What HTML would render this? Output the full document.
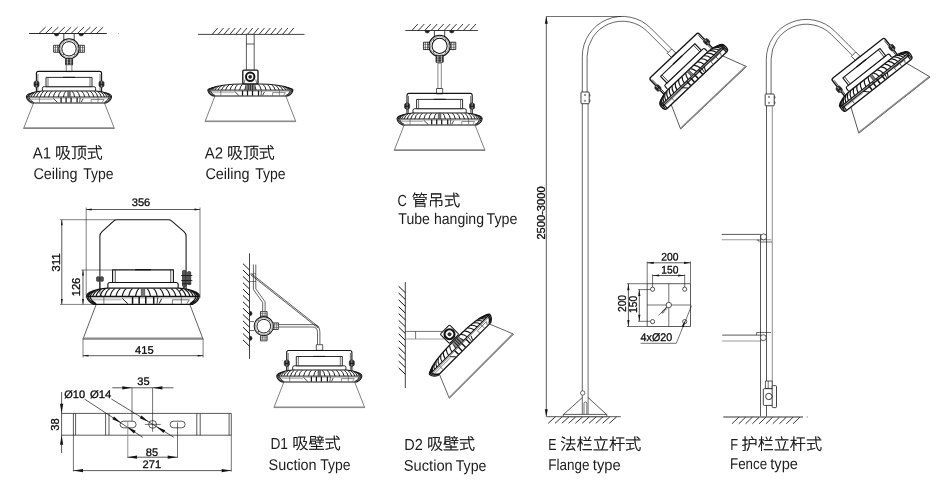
<!DOCTYPE html>
<html lang="zh">
<head>
<meta charset="utf-8">
<title>Installation types</title>
<style>
html,body{margin:0;padding:0;background:#fff;}
body{width:944px;height:496px;overflow:hidden;}
svg{display:block;will-change:transform;}
text.d{font-family:"Liberation Sans",sans-serif;fill:#0c0c0c;stroke:#0c0c0c;stroke-width:0.3px;}
text.l{font-family:"Liberation Sans","Noto Sans CJK SC",sans-serif;font-weight:300;fill:#1c1c1c;}
text.l .c{fill:#000;stroke:#000;stroke-width:0.28px;}
</style>
</head>
<body>
<svg width="944" height="496" viewBox="0 0 944 496" stroke-linecap="butt" stroke-linejoin="round">
<rect x="0" y="0" width="944" height="496" fill="#fff"/>
<g><line x1="29.1" y1="33.5" x2="106.8" y2="33.5" stroke="#141414" stroke-width="0.9"/><path d="M39,33.5 l6.6,-6.4M45.4,33.5 l6.6,-6.4M51.8,33.5 l6.6,-6.4M58.2,33.5 l6.6,-6.4M64.6,33.5 l6.6,-6.4M71,33.5 l6.6,-6.4M77.4,33.5 l6.6,-6.4M83.8,33.5 l6.6,-6.4M90.2,33.5 l6.6,-6.4M96.6,33.5 l6.6,-6.4" fill="none" stroke="#141414" stroke-width="0.85"/><circle cx="118.6" cy="33.5" r="0.5" fill="#888"/><rect x="63.8" y="33.5" width="10.4" height="6.5" rx="0" fill="#fff" stroke="#141414" stroke-width="0.8"/><g transform="translate(69,48.8)"><g transform="rotate(180)"><rect x="9.6" y="-3.5" width="5.8" height="7" rx="0" fill="#fff" stroke="#141414" stroke-width="0.8"/><line x1="11.5" y1="-3.5" x2="11.5" y2="3.5" stroke="#141414" stroke-width="0.6"/><line x1="13.6" y1="-3.5" x2="13.6" y2="3.5" stroke="#141414" stroke-width="0.6"/><line x1="9.8" y1="-1.4" x2="15.4" y2="-1.4" stroke="#444" stroke-width="0.5"/><line x1="9.8" y1="1.4" x2="15.4" y2="1.4" stroke="#444" stroke-width="0.5"/></g><g transform="rotate(0)"><rect x="9.6" y="-3.5" width="5.8" height="7" rx="0" fill="#fff" stroke="#141414" stroke-width="0.8"/><line x1="11.5" y1="-3.5" x2="11.5" y2="3.5" stroke="#141414" stroke-width="0.6"/><line x1="13.6" y1="-3.5" x2="13.6" y2="3.5" stroke="#141414" stroke-width="0.6"/><line x1="9.8" y1="-1.4" x2="15.4" y2="-1.4" stroke="#444" stroke-width="0.5"/><line x1="9.8" y1="1.4" x2="15.4" y2="1.4" stroke="#444" stroke-width="0.5"/></g><circle cx="0" cy="0" r="10.1" fill="#fff" stroke="#141414" stroke-width="1.1"/><circle cx="0" cy="0" r="8.9" fill="none" stroke="#444" stroke-width="0.5"/><circle cx="0" cy="0" r="7.2" fill="none" stroke="#141414" stroke-width="1"/><circle cx="5.73" cy="5.73" r="0.55" fill="#222"/><circle cx="-5.73" cy="5.73" r="0.55" fill="#222"/><circle cx="-5.73" cy="-5.73" r="0.55" fill="#222"/><circle cx="5.73" cy="-5.73" r="0.55" fill="#222"/></g><path d="M54.3,33.8 h4.6 a2.3,2.3 0 0 1 -4.6,0 Z" fill="#222" stroke="#141414" stroke-width="0.4"/><path d="M79,33.8 h4.6 a2.3,2.3 0 0 1 -4.6,0 Z" fill="#222" stroke="#141414" stroke-width="0.4"/><rect x="65.6" y="58.6" width="7" height="6.2" rx="0" fill="#777" stroke="#141414" stroke-width="0.8"/><path d="M65.6,60.2 H72.6 M65.6,61.8 H72.6 M65.6,63.4 H72.6" fill="none" stroke="#141414" stroke-width="0.8"/><path d="M67.4,58.6 V64.8 M70.8,58.6 V64.8" fill="none" stroke="#fff" stroke-width="0.6"/><rect x="66.3" y="64.8" width="5.6" height="6.8" rx="0" fill="#fff" stroke="#444" stroke-width="0.7"/><g transform="translate(69,102.9)"><path d="M-35.4,0 L-45.4,25.6 H45.4 L35.4,0" fill="none" stroke="#3a3a3a" stroke-width="0.65"/><line x1="-45.1" y1="25" x2="45.1" y2="25" stroke="#888" stroke-width="1.2"/><g><path d="M-32.6,-9 V-29.5 Q-32.6,-31.5 -30.6,-31.5 H30.6 Q32.6,-31.5 32.6,-29.5 V-9" fill="none" stroke="#141414" stroke-width="1.1"/><path d="M-31.1,-9 V-29 M31.1,-9 V-29" fill="none" stroke="#141414" stroke-width="0.6"/><path d="M-26.6,-11.7 V-14.7 Q-26.6,-16.2 -24.9,-16.2 H24.9 Q26.6,-16.2 26.6,-14.7 V-11.7" fill="#fff" stroke="#141414" stroke-width="0.9"/><rect x="-23" y="-25.5" width="46" height="9.3" rx="0" fill="#fff" stroke="#141414" stroke-width="0.9"/><line x1="-21" y1="-25.4" x2="-21" y2="-16.2" stroke="#141414" stroke-width="0.6"/><line x1="21" y1="-25.4" x2="21" y2="-16.2" stroke="#141414" stroke-width="0.6"/><line x1="-6" y1="-25.6" x2="6" y2="-25.6" stroke="#141414" stroke-width="1"/></g><g transform="scale(1,0.97)"><path d="M-26.8,-12.3 H26.8 C31,-12.1 36,-11.1 40.3,-9.1 C41.9,-8.3 42.6,-7.5 42.6,-6.3 C42.3,-3.8 39.8,-1.2 37.4,0 H-37.4 C-39.8,-1.2 -42.3,-3.8 -42.6,-6.3 C-42.6,-7.5 -41.9,-8.3 -40.3,-9.1 C-36,-11.1 -31,-12.1 -26.8,-12.3 Z" fill="#fff" stroke="#141414" stroke-width="1.05"/><line x1="-42.4" y1="-6.1" x2="42.4" y2="-6.1" stroke="#141414" stroke-width="0.9"/><line x1="-42" y1="-5" x2="42" y2="-5" stroke="#555" stroke-width="0.5"/><path d="M-41.4,-5.6 C-40.8,-3.4 -39,-1.6 -36.6,-0.5 M41.4,-5.6 C40.8,-3.4 39,-1.6 36.6,-0.5 M-40,-5.6 C-39.4,-3.6 -37.6,-1.6 -35.4,-0.5 M40,-5.6 C39.4,-3.6 37.6,-1.6 35.4,-0.5" fill="none" stroke="#141414" stroke-width="1"/><path d="M-3.15,-12 Q-5.03,-10.2 -5.65,-6" fill="none" stroke="#141414" stroke-width="0.95"/><path d="M-7.99,-12 Q-10.08,-10.2 -10.78,-6" fill="none" stroke="#141414" stroke-width="0.95"/><path d="M-12.68,-12 Q-14.98,-10.2 -15.74,-6" fill="none" stroke="#141414" stroke-width="0.95"/><path d="M-17.14,-12 Q-19.63,-10.2 -20.46,-6" fill="none" stroke="#141414" stroke-width="0.95"/><path d="M-21.31,-12 Q-23.98,-10.2 -24.86,-6" fill="none" stroke="#141414" stroke-width="0.95"/><path d="M-25.11,-12 Q-27.94,-10.2 -28.89,-6" fill="none" stroke="#141414" stroke-width="0.95"/><path d="M-28.5,-11.83 Q-31.48,-10.08 -32.47,-6" fill="none" stroke="#141414" stroke-width="0.95"/><path d="M-31.41,-11.46 Q-34.52,-9.82 -35.55,-6" fill="none" stroke="#141414" stroke-width="0.95"/><path d="M-33.81,-11 Q-37.02,-9.5 -38.09,-6" fill="none" stroke="#141414" stroke-width="0.95"/><path d="M-35.66,-10.64 Q-38.95,-9.25 -40.04,-6" fill="none" stroke="#141414" stroke-width="0.95"/><path d="M-36.93,-10.27 Q-40.27,-8.99 -41.38,-6" fill="none" stroke="#141414" stroke-width="0.95"/><path d="M-37.59,-9.98 Q-40.96,-8.79 -42.09,-6" fill="none" stroke="#141414" stroke-width="0.95"/><path d="M3.15,-12 Q5.03,-10.2 5.65,-6" fill="none" stroke="#141414" stroke-width="0.95"/><path d="M7.99,-12 Q10.08,-10.2 10.78,-6" fill="none" stroke="#141414" stroke-width="0.95"/><path d="M12.68,-12 Q14.98,-10.2 15.74,-6" fill="none" stroke="#141414" stroke-width="0.95"/><path d="M17.14,-12 Q19.63,-10.2 20.46,-6" fill="none" stroke="#141414" stroke-width="0.95"/><path d="M21.31,-12 Q23.98,-10.2 24.86,-6" fill="none" stroke="#141414" stroke-width="0.95"/><path d="M25.11,-12 Q27.94,-10.2 28.89,-6" fill="none" stroke="#141414" stroke-width="0.95"/><path d="M28.5,-11.83 Q31.48,-10.08 32.47,-6" fill="none" stroke="#141414" stroke-width="0.95"/><path d="M31.41,-11.46 Q34.52,-9.82 35.55,-6" fill="none" stroke="#141414" stroke-width="0.95"/><path d="M33.81,-11 Q37.02,-9.5 38.09,-6" fill="none" stroke="#141414" stroke-width="0.95"/><path d="M35.66,-10.64 Q38.95,-9.25 40.04,-6" fill="none" stroke="#141414" stroke-width="0.95"/><path d="M36.93,-10.27 Q40.27,-8.99 41.38,-6" fill="none" stroke="#141414" stroke-width="0.95"/><path d="M37.59,-9.98 Q40.96,-8.79 42.09,-6" fill="none" stroke="#141414" stroke-width="0.95"/><rect x="-1.3" y="-12.1" width="2.6" height="6" rx="0" fill="#777" stroke="#333" stroke-width="0.5"/><line x1="-7.9" y1="-5.6" x2="-7.9" y2="-0.4" stroke="#141414" stroke-width="1.25"/><line x1="-2.9" y1="-5.6" x2="-2.9" y2="-0.4" stroke="#141414" stroke-width="1.25"/><line x1="2.1" y1="-5.6" x2="2.1" y2="-0.4" stroke="#141414" stroke-width="1.25"/><line x1="8.1" y1="-5.6" x2="8.1" y2="-0.4" stroke="#141414" stroke-width="1.25"/><line x1="11.2" y1="-5.4" x2="10.6" y2="-0.4" stroke="#141414" stroke-width="0.7"/><path d="M-15.7,-4.6 L-11.5,-0.5 M14.1,-4.3 L12.2,-0.6" fill="none" stroke="#141414" stroke-width="0.8"/><path d="M-38.2,-3.5 H-16.3" fill="none" stroke="#aaa" stroke-width="0.8"/><path d="M22.2,-3.5 H35 L33.2,-0.5 M22.2,-3.5 V-0.4 M29,-5.6 V-0.4 M-29.6,-5.6 V-0.4" fill="none" stroke="#333" stroke-width="0.55"/></g><g transform="translate(0,0)"><rect x="-35" y="-21.4" width="5" height="5.2" rx="1.2" fill="#333" stroke="#141414" stroke-width="0.6"/><rect x="-33.4" y="-22.2" width="1.8" height="6.8" rx="0.4" fill="#888" stroke="#141414" stroke-width="0.5"/><line x1="-34.3" y1="-18.6" x2="-30.7" y2="-18.6" stroke="#141414" stroke-width="0.9"/><rect x="30" y="-21.4" width="5" height="5.2" rx="1.2" fill="#333" stroke="#141414" stroke-width="0.6"/><rect x="31.6" y="-22.2" width="1.8" height="6.8" rx="0.4" fill="#888" stroke="#141414" stroke-width="0.5"/><line x1="30.7" y1="-18.6" x2="34.3" y2="-18.6" stroke="#141414" stroke-width="0.9"/></g></g></g>
<g><line x1="197.9" y1="34.4" x2="304.5" y2="34.4" stroke="#141414" stroke-width="0.8"/><path d="M212.3,34.4 l5.4,-6.4M218.15,34.4 l5.4,-6.4M224,34.4 l5.4,-6.4M229.85,34.4 l5.4,-6.4M235.7,34.4 l5.4,-6.4M241.55,34.4 l5.4,-6.4M247.4,34.4 l5.4,-6.4M253.25,34.4 l5.4,-6.4M259.1,34.4 l5.4,-6.4M264.95,34.4 l5.4,-6.4M270.8,34.4 l5.4,-6.4M276.65,34.4 l5.4,-6.4M282.5,34.4 l5.4,-6.4M288.35,34.4 l5.4,-6.4" fill="none" stroke="#141414" stroke-width="0.85"/><rect x="246.4" y="34.4" width="7.8" height="36" rx="0" fill="#fff" stroke="#141414" stroke-width="0.7"/><line x1="246.4" y1="44" x2="254.2" y2="44" stroke="#141414" stroke-width="0.7"/><g transform="translate(250.4,96.0)"><path d="M-35.4,0 L-45.4,25.6 H45.4 L35.4,0" fill="none" stroke="#3a3a3a" stroke-width="0.65"/><line x1="-45.1" y1="25" x2="45.1" y2="25" stroke="#888" stroke-width="1.2"/><g></g><g transform="scale(1,0.97)"><path d="M-8.5,-12.3 H8.5 C16,-12.2 22,-11.7 27,-11.1 C31,-10.6 37,-9.2 40.8,-7.6 C42,-7.1 42.6,-6.9 42.6,-6.3 C42.3,-3.8 39.8,-1.2 37.4,0 H-37.4 C-39.8,-1.2 -42.3,-3.8 -42.6,-6.3 C-42.6,-6.9 -42,-7.1 -40.8,-7.6 C-37,-9.2 -31,-10.6 -27,-11.1 C-22,-11.7 -16,-12.2 -8.5,-12.3 Z" fill="#fff" stroke="#141414" stroke-width="1.05"/><line x1="-42.4" y1="-6.1" x2="42.4" y2="-6.1" stroke="#141414" stroke-width="0.9"/><line x1="-42" y1="-5" x2="42" y2="-5" stroke="#555" stroke-width="0.5"/><path d="M-41.4,-5.6 C-40.8,-3.4 -39,-1.6 -36.6,-0.5 M41.4,-5.6 C40.8,-3.4 39,-1.6 36.6,-0.5 M-40,-5.6 C-39.4,-3.6 -37.6,-1.6 -35.4,-0.5 M40,-5.6 C39.4,-3.6 37.6,-1.6 35.4,-0.5" fill="none" stroke="#141414" stroke-width="1"/><path d="M-3.15,-12 Q-5.03,-10.2 -5.65,-6" fill="none" stroke="#141414" stroke-width="0.95"/><path d="M-7.99,-12 Q-10.08,-10.2 -10.78,-6" fill="none" stroke="#141414" stroke-width="0.95"/><path d="M-12.68,-11.82 Q-14.98,-10.08 -15.74,-6" fill="none" stroke="#141414" stroke-width="0.95"/><path d="M-17.14,-11.64 Q-19.63,-9.95 -20.46,-6" fill="none" stroke="#141414" stroke-width="0.95"/><path d="M-21.31,-11.31 Q-23.98,-9.71 -24.86,-6" fill="none" stroke="#141414" stroke-width="0.95"/><path d="M-25.11,-10.97 Q-27.94,-9.48 -28.89,-6" fill="none" stroke="#141414" stroke-width="0.95"/><path d="M-28.5,-10.55 Q-31.48,-9.19 -32.47,-6" fill="none" stroke="#141414" stroke-width="0.95"/><path d="M-31.41,-10.06 Q-34.52,-8.85 -35.55,-6" fill="none" stroke="#141414" stroke-width="0.95"/><path d="M-33.81,-9.57 Q-37.02,-8.5 -38.09,-6" fill="none" stroke="#141414" stroke-width="0.95"/><path d="M-35.66,-9.03 Q-38.95,-8.12 -40.04,-6" fill="none" stroke="#141414" stroke-width="0.95"/><path d="M-36.93,-8.67 Q-40.27,-7.87 -41.38,-6" fill="none" stroke="#141414" stroke-width="0.95"/><path d="M-37.59,-8.47 Q-40.96,-7.73 -42.09,-6" fill="none" stroke="#141414" stroke-width="0.95"/><path d="M3.15,-12 Q5.03,-10.2 5.65,-6" fill="none" stroke="#141414" stroke-width="0.95"/><path d="M7.99,-12 Q10.08,-10.2 10.78,-6" fill="none" stroke="#141414" stroke-width="0.95"/><path d="M12.68,-11.82 Q14.98,-10.08 15.74,-6" fill="none" stroke="#141414" stroke-width="0.95"/><path d="M17.14,-11.64 Q19.63,-9.95 20.46,-6" fill="none" stroke="#141414" stroke-width="0.95"/><path d="M21.31,-11.31 Q23.98,-9.71 24.86,-6" fill="none" stroke="#141414" stroke-width="0.95"/><path d="M25.11,-10.97 Q27.94,-9.48 28.89,-6" fill="none" stroke="#141414" stroke-width="0.95"/><path d="M28.5,-10.55 Q31.48,-9.19 32.47,-6" fill="none" stroke="#141414" stroke-width="0.95"/><path d="M31.41,-10.06 Q34.52,-8.85 35.55,-6" fill="none" stroke="#141414" stroke-width="0.95"/><path d="M33.81,-9.57 Q37.02,-8.5 38.09,-6" fill="none" stroke="#141414" stroke-width="0.95"/><path d="M35.66,-9.03 Q38.95,-8.12 40.04,-6" fill="none" stroke="#141414" stroke-width="0.95"/><path d="M36.93,-8.67 Q40.27,-7.87 41.38,-6" fill="none" stroke="#141414" stroke-width="0.95"/><path d="M37.59,-8.47 Q40.96,-7.73 42.09,-6" fill="none" stroke="#141414" stroke-width="0.95"/><rect x="-4.8" y="-12.1" width="9.6" height="6" rx="0" fill="#888" stroke="#333" stroke-width="0.5"/><path d="M-2.2,-12 V-6.2 M0,-12 V-6.2 M2.2,-12 V-6.2" fill="none" stroke="#141414" stroke-width="0.8"/><line x1="-7.9" y1="-5.6" x2="-7.9" y2="-0.4" stroke="#141414" stroke-width="1.25"/><line x1="-2.9" y1="-5.6" x2="-2.9" y2="-0.4" stroke="#141414" stroke-width="1.25"/><line x1="2.1" y1="-5.6" x2="2.1" y2="-0.4" stroke="#141414" stroke-width="1.25"/><line x1="8.1" y1="-5.6" x2="8.1" y2="-0.4" stroke="#141414" stroke-width="1.25"/><line x1="11.2" y1="-5.4" x2="10.6" y2="-0.4" stroke="#141414" stroke-width="0.7"/><path d="M-15.7,-4.6 L-11.5,-0.5 M14.1,-4.3 L12.2,-0.6" fill="none" stroke="#141414" stroke-width="0.8"/><path d="M-38.2,-3.5 H-16.3" fill="none" stroke="#aaa" stroke-width="0.8"/><path d="M22.2,-3.5 H35 L33.2,-0.5 M22.2,-3.5 V-0.4 M29,-5.6 V-0.4 M-29.6,-5.6 V-0.4" fill="none" stroke="#333" stroke-width="0.55"/></g><rect x="-7.6" y="-25.9" width="15.2" height="13.8" rx="1.2" fill="#fff" stroke="#141414" stroke-width="1.3"/><path d="M-6.4,-12.1 L-5.4,-16.5 M6.4,-12.1 L5.4,-16.5" fill="none" stroke="#141414" stroke-width="0.6"/><circle cx="-0.2" cy="-19.2" r="4.2" fill="none" stroke="#141414" stroke-width="2"/><circle cx="-0.2" cy="-19.2" r="1.6" fill="#222" stroke="#141414" stroke-width="0.5"/></g></g>
<g><line x1="405.3" y1="30.5" x2="477.9" y2="30.5" stroke="#141414" stroke-width="0.8"/><path d="M411.8,30.5 l6.1,-6.5M418.25,30.5 l6.1,-6.5M424.7,30.5 l6.1,-6.5M431.15,30.5 l6.1,-6.5M437.6,30.5 l6.1,-6.5M444.05,30.5 l6.1,-6.5M450.5,30.5 l6.1,-6.5M456.95,30.5 l6.1,-6.5M463.4,30.5 l6.1,-6.5M469.85,30.5 l6.1,-6.5" fill="none" stroke="#141414" stroke-width="0.85"/><rect x="434.4" y="30.5" width="10.3" height="6.5" rx="0" fill="#fff" stroke="#141414" stroke-width="0.8"/><g transform="translate(439.6,45.9) scale(1.05)"><g transform="rotate(180)"><rect x="9.6" y="-3.5" width="5.8" height="7" rx="0" fill="#fff" stroke="#141414" stroke-width="0.8"/><line x1="11.5" y1="-3.5" x2="11.5" y2="3.5" stroke="#141414" stroke-width="0.6"/><line x1="13.6" y1="-3.5" x2="13.6" y2="3.5" stroke="#141414" stroke-width="0.6"/><line x1="9.8" y1="-1.4" x2="15.4" y2="-1.4" stroke="#444" stroke-width="0.5"/><line x1="9.8" y1="1.4" x2="15.4" y2="1.4" stroke="#444" stroke-width="0.5"/></g><g transform="rotate(0)"><rect x="9.6" y="-3.5" width="5.8" height="7" rx="0" fill="#fff" stroke="#141414" stroke-width="0.8"/><line x1="11.5" y1="-3.5" x2="11.5" y2="3.5" stroke="#141414" stroke-width="0.6"/><line x1="13.6" y1="-3.5" x2="13.6" y2="3.5" stroke="#141414" stroke-width="0.6"/><line x1="9.8" y1="-1.4" x2="15.4" y2="-1.4" stroke="#444" stroke-width="0.5"/><line x1="9.8" y1="1.4" x2="15.4" y2="1.4" stroke="#444" stroke-width="0.5"/></g><circle cx="0" cy="0" r="10.1" fill="#fff" stroke="#141414" stroke-width="1.1"/><circle cx="0" cy="0" r="8.9" fill="none" stroke="#444" stroke-width="0.5"/><circle cx="0" cy="0" r="7.2" fill="none" stroke="#141414" stroke-width="1"/><circle cx="5.73" cy="5.73" r="0.55" fill="#222"/><circle cx="-5.73" cy="5.73" r="0.55" fill="#222"/><circle cx="-5.73" cy="-5.73" r="0.55" fill="#222"/><circle cx="5.73" cy="-5.73" r="0.55" fill="#222"/></g><path d="M425,30.8 h4.6 a2.3,2.3 0 0 1 -4.6,0 Z" fill="#222" stroke="#141414" stroke-width="0.4"/><path d="M449.5,30.8 h4.6 a2.3,2.3 0 0 1 -4.6,0 Z" fill="#222" stroke="#141414" stroke-width="0.4"/><rect x="436" y="55.6" width="7.2" height="6.6" rx="0" fill="#777" stroke="#141414" stroke-width="0.8"/><path d="M436,57.2 H443.2 M436,58.8 H443.2 M436,60.4 H443.2" fill="none" stroke="#141414" stroke-width="0.8"/><path d="M437.8,55.6 V62 M441.4,55.6 V62" fill="none" stroke="#fff" stroke-width="0.6"/><rect x="437.9" y="63.2" width="3.4" height="25.3" rx="0" fill="#fff" stroke="#333" stroke-width="0.6"/><rect x="436.5" y="88.5" width="6.2" height="5.4" rx="0" fill="#fff" stroke="#141414" stroke-width="0.7"/><g transform="translate(439.6,124.9)"><path d="M-35.4,0 L-45.4,25.6 H45.4 L35.4,0" fill="none" stroke="#3a3a3a" stroke-width="0.65"/><line x1="-45.1" y1="25" x2="45.1" y2="25" stroke="#888" stroke-width="1.2"/><g><path d="M-32.6,-9 V-29.5 Q-32.6,-31.5 -30.6,-31.5 H30.6 Q32.6,-31.5 32.6,-29.5 V-9" fill="none" stroke="#141414" stroke-width="1.1"/><path d="M-31.1,-9 V-29 M31.1,-9 V-29" fill="none" stroke="#141414" stroke-width="0.6"/><path d="M-26.6,-11.7 V-14.7 Q-26.6,-16.2 -24.9,-16.2 H24.9 Q26.6,-16.2 26.6,-14.7 V-11.7" fill="#fff" stroke="#141414" stroke-width="0.9"/><rect x="-23" y="-25.5" width="46" height="9.3" rx="0" fill="#fff" stroke="#141414" stroke-width="0.9"/><line x1="-21" y1="-25.4" x2="-21" y2="-16.2" stroke="#141414" stroke-width="0.6"/><line x1="21" y1="-25.4" x2="21" y2="-16.2" stroke="#141414" stroke-width="0.6"/><line x1="-6" y1="-25.6" x2="6" y2="-25.6" stroke="#141414" stroke-width="1"/></g><g transform="scale(1,0.97)"><path d="M-26.8,-12.3 H26.8 C31,-12.1 36,-11.1 40.3,-9.1 C41.9,-8.3 42.6,-7.5 42.6,-6.3 C42.3,-3.8 39.8,-1.2 37.4,0 H-37.4 C-39.8,-1.2 -42.3,-3.8 -42.6,-6.3 C-42.6,-7.5 -41.9,-8.3 -40.3,-9.1 C-36,-11.1 -31,-12.1 -26.8,-12.3 Z" fill="#fff" stroke="#141414" stroke-width="1.05"/><line x1="-42.4" y1="-6.1" x2="42.4" y2="-6.1" stroke="#141414" stroke-width="0.9"/><line x1="-42" y1="-5" x2="42" y2="-5" stroke="#555" stroke-width="0.5"/><path d="M-41.4,-5.6 C-40.8,-3.4 -39,-1.6 -36.6,-0.5 M41.4,-5.6 C40.8,-3.4 39,-1.6 36.6,-0.5 M-40,-5.6 C-39.4,-3.6 -37.6,-1.6 -35.4,-0.5 M40,-5.6 C39.4,-3.6 37.6,-1.6 35.4,-0.5" fill="none" stroke="#141414" stroke-width="1"/><path d="M-3.15,-12 Q-5.03,-10.2 -5.65,-6" fill="none" stroke="#141414" stroke-width="0.95"/><path d="M-7.99,-12 Q-10.08,-10.2 -10.78,-6" fill="none" stroke="#141414" stroke-width="0.95"/><path d="M-12.68,-12 Q-14.98,-10.2 -15.74,-6" fill="none" stroke="#141414" stroke-width="0.95"/><path d="M-17.14,-12 Q-19.63,-10.2 -20.46,-6" fill="none" stroke="#141414" stroke-width="0.95"/><path d="M-21.31,-12 Q-23.98,-10.2 -24.86,-6" fill="none" stroke="#141414" stroke-width="0.95"/><path d="M-25.11,-12 Q-27.94,-10.2 -28.89,-6" fill="none" stroke="#141414" stroke-width="0.95"/><path d="M-28.5,-11.83 Q-31.48,-10.08 -32.47,-6" fill="none" stroke="#141414" stroke-width="0.95"/><path d="M-31.41,-11.46 Q-34.52,-9.82 -35.55,-6" fill="none" stroke="#141414" stroke-width="0.95"/><path d="M-33.81,-11 Q-37.02,-9.5 -38.09,-6" fill="none" stroke="#141414" stroke-width="0.95"/><path d="M-35.66,-10.64 Q-38.95,-9.25 -40.04,-6" fill="none" stroke="#141414" stroke-width="0.95"/><path d="M-36.93,-10.27 Q-40.27,-8.99 -41.38,-6" fill="none" stroke="#141414" stroke-width="0.95"/><path d="M-37.59,-9.98 Q-40.96,-8.79 -42.09,-6" fill="none" stroke="#141414" stroke-width="0.95"/><path d="M3.15,-12 Q5.03,-10.2 5.65,-6" fill="none" stroke="#141414" stroke-width="0.95"/><path d="M7.99,-12 Q10.08,-10.2 10.78,-6" fill="none" stroke="#141414" stroke-width="0.95"/><path d="M12.68,-12 Q14.98,-10.2 15.74,-6" fill="none" stroke="#141414" stroke-width="0.95"/><path d="M17.14,-12 Q19.63,-10.2 20.46,-6" fill="none" stroke="#141414" stroke-width="0.95"/><path d="M21.31,-12 Q23.98,-10.2 24.86,-6" fill="none" stroke="#141414" stroke-width="0.95"/><path d="M25.11,-12 Q27.94,-10.2 28.89,-6" fill="none" stroke="#141414" stroke-width="0.95"/><path d="M28.5,-11.83 Q31.48,-10.08 32.47,-6" fill="none" stroke="#141414" stroke-width="0.95"/><path d="M31.41,-11.46 Q34.52,-9.82 35.55,-6" fill="none" stroke="#141414" stroke-width="0.95"/><path d="M33.81,-11 Q37.02,-9.5 38.09,-6" fill="none" stroke="#141414" stroke-width="0.95"/><path d="M35.66,-10.64 Q38.95,-9.25 40.04,-6" fill="none" stroke="#141414" stroke-width="0.95"/><path d="M36.93,-10.27 Q40.27,-8.99 41.38,-6" fill="none" stroke="#141414" stroke-width="0.95"/><path d="M37.59,-9.98 Q40.96,-8.79 42.09,-6" fill="none" stroke="#141414" stroke-width="0.95"/><rect x="-1.3" y="-12.1" width="2.6" height="6" rx="0" fill="#777" stroke="#333" stroke-width="0.5"/><line x1="-7.9" y1="-5.6" x2="-7.9" y2="-0.4" stroke="#141414" stroke-width="1.25"/><line x1="-2.9" y1="-5.6" x2="-2.9" y2="-0.4" stroke="#141414" stroke-width="1.25"/><line x1="2.1" y1="-5.6" x2="2.1" y2="-0.4" stroke="#141414" stroke-width="1.25"/><line x1="8.1" y1="-5.6" x2="8.1" y2="-0.4" stroke="#141414" stroke-width="1.25"/><line x1="11.2" y1="-5.4" x2="10.6" y2="-0.4" stroke="#141414" stroke-width="0.7"/><path d="M-15.7,-4.6 L-11.5,-0.5 M14.1,-4.3 L12.2,-0.6" fill="none" stroke="#141414" stroke-width="0.8"/><path d="M-38.2,-3.5 H-16.3" fill="none" stroke="#aaa" stroke-width="0.8"/><path d="M22.2,-3.5 H35 L33.2,-0.5 M22.2,-3.5 V-0.4 M29,-5.6 V-0.4 M-29.6,-5.6 V-0.4" fill="none" stroke="#333" stroke-width="0.55"/></g><g transform="translate(0,0)"><rect x="-35" y="-21.4" width="5" height="5.2" rx="1.2" fill="#333" stroke="#141414" stroke-width="0.6"/><rect x="-33.4" y="-22.2" width="1.8" height="6.8" rx="0.4" fill="#888" stroke="#141414" stroke-width="0.5"/><line x1="-34.3" y1="-18.6" x2="-30.7" y2="-18.6" stroke="#141414" stroke-width="0.9"/><rect x="30" y="-21.4" width="5" height="5.2" rx="1.2" fill="#333" stroke="#141414" stroke-width="0.6"/><rect x="31.6" y="-22.2" width="1.8" height="6.8" rx="0.4" fill="#888" stroke="#141414" stroke-width="0.5"/><line x1="30.7" y1="-18.6" x2="34.3" y2="-18.6" stroke="#141414" stroke-width="0.9"/></g></g></g>
<g><g transform="translate(143,304.4) scale(1.322,1.355)"><path d="M-35.4,0 L-45.4,25.6 H45.4 L35.4,0" fill="none" stroke="#3a3a3a" stroke-width="0.6"/><line x1="-45.1" y1="25" x2="45.1" y2="25" stroke="#888" stroke-width="1.11"/><g><path d="M-32.6,-9 V-50.3 Q-32.6,-52.3 -31,-53.7 L-22,-61.7 Q-21,-62.5 -19.8,-62.5 H19.4 Q20.6,-62.5 21.6,-61.7 L31,-53.7 Q32.6,-52.3 32.6,-50.3 V-9" fill="none" stroke="#141414" stroke-width="0.79"/><path d="M-26.6,-11.7 V-14.7 Q-26.6,-16.2 -24.9,-16.2 H24.9 Q26.6,-16.2 26.6,-14.7 V-11.7" fill="#fff" stroke="#141414" stroke-width="0.83"/><rect x="-23" y="-25.5" width="46" height="9.3" rx="0" fill="#fff" stroke="#141414" stroke-width="0.83"/><line x1="-21" y1="-25.4" x2="-21" y2="-16.2" stroke="#141414" stroke-width="0.56"/><line x1="21" y1="-25.4" x2="21" y2="-16.2" stroke="#141414" stroke-width="0.56"/><line x1="-6" y1="-25.6" x2="6" y2="-25.6" stroke="#141414" stroke-width="0.93"/></g><g transform="scale(1,0.97)"><path d="M-26.8,-12.3 H26.8 C31,-12.1 36,-11.1 40.3,-9.1 C41.9,-8.3 42.6,-7.5 42.6,-6.3 C42.3,-3.8 39.8,-1.2 37.4,0 H-37.4 C-39.8,-1.2 -42.3,-3.8 -42.6,-6.3 C-42.6,-7.5 -41.9,-8.3 -40.3,-9.1 C-36,-11.1 -31,-12.1 -26.8,-12.3 Z" fill="#fff" stroke="#141414" stroke-width="0.97"/><line x1="-42.4" y1="-6.1" x2="42.4" y2="-6.1" stroke="#141414" stroke-width="0.83"/><line x1="-42" y1="-5" x2="42" y2="-5" stroke="#555" stroke-width="0.46"/><path d="M-41.4,-5.6 C-40.8,-3.4 -39,-1.6 -36.6,-0.5 M41.4,-5.6 C40.8,-3.4 39,-1.6 36.6,-0.5 M-40,-5.6 C-39.4,-3.6 -37.6,-1.6 -35.4,-0.5 M40,-5.6 C39.4,-3.6 37.6,-1.6 35.4,-0.5" fill="none" stroke="#141414" stroke-width="0.93"/><path d="M-3.15,-12 Q-5.03,-10.2 -5.65,-6" fill="none" stroke="#141414" stroke-width="0.88"/><path d="M-7.99,-12 Q-10.08,-10.2 -10.78,-6" fill="none" stroke="#141414" stroke-width="0.88"/><path d="M-12.68,-12 Q-14.98,-10.2 -15.74,-6" fill="none" stroke="#141414" stroke-width="0.88"/><path d="M-17.14,-12 Q-19.63,-10.2 -20.46,-6" fill="none" stroke="#141414" stroke-width="0.88"/><path d="M-21.31,-12 Q-23.98,-10.2 -24.86,-6" fill="none" stroke="#141414" stroke-width="0.88"/><path d="M-25.11,-12 Q-27.94,-10.2 -28.89,-6" fill="none" stroke="#141414" stroke-width="0.88"/><path d="M-28.5,-11.83 Q-31.48,-10.08 -32.47,-6" fill="none" stroke="#141414" stroke-width="0.88"/><path d="M-31.41,-11.46 Q-34.52,-9.82 -35.55,-6" fill="none" stroke="#141414" stroke-width="0.88"/><path d="M-33.81,-11 Q-37.02,-9.5 -38.09,-6" fill="none" stroke="#141414" stroke-width="0.88"/><path d="M-35.66,-10.64 Q-38.95,-9.25 -40.04,-6" fill="none" stroke="#141414" stroke-width="0.88"/><path d="M-36.93,-10.27 Q-40.27,-8.99 -41.38,-6" fill="none" stroke="#141414" stroke-width="0.88"/><path d="M-37.59,-9.98 Q-40.96,-8.79 -42.09,-6" fill="none" stroke="#141414" stroke-width="0.88"/><path d="M3.15,-12 Q5.03,-10.2 5.65,-6" fill="none" stroke="#141414" stroke-width="0.88"/><path d="M7.99,-12 Q10.08,-10.2 10.78,-6" fill="none" stroke="#141414" stroke-width="0.88"/><path d="M12.68,-12 Q14.98,-10.2 15.74,-6" fill="none" stroke="#141414" stroke-width="0.88"/><path d="M17.14,-12 Q19.63,-10.2 20.46,-6" fill="none" stroke="#141414" stroke-width="0.88"/><path d="M21.31,-12 Q23.98,-10.2 24.86,-6" fill="none" stroke="#141414" stroke-width="0.88"/><path d="M25.11,-12 Q27.94,-10.2 28.89,-6" fill="none" stroke="#141414" stroke-width="0.88"/><path d="M28.5,-11.83 Q31.48,-10.08 32.47,-6" fill="none" stroke="#141414" stroke-width="0.88"/><path d="M31.41,-11.46 Q34.52,-9.82 35.55,-6" fill="none" stroke="#141414" stroke-width="0.88"/><path d="M33.81,-11 Q37.02,-9.5 38.09,-6" fill="none" stroke="#141414" stroke-width="0.88"/><path d="M35.66,-10.64 Q38.95,-9.25 40.04,-6" fill="none" stroke="#141414" stroke-width="0.88"/><path d="M36.93,-10.27 Q40.27,-8.99 41.38,-6" fill="none" stroke="#141414" stroke-width="0.88"/><path d="M37.59,-9.98 Q40.96,-8.79 42.09,-6" fill="none" stroke="#141414" stroke-width="0.88"/><rect x="-1.3" y="-12.1" width="2.6" height="6" rx="0" fill="#777" stroke="#333" stroke-width="0.46"/><line x1="-7.9" y1="-5.6" x2="-7.9" y2="-0.4" stroke="#141414" stroke-width="1.16"/><line x1="-2.9" y1="-5.6" x2="-2.9" y2="-0.4" stroke="#141414" stroke-width="1.16"/><line x1="2.1" y1="-5.6" x2="2.1" y2="-0.4" stroke="#141414" stroke-width="1.16"/><line x1="8.1" y1="-5.6" x2="8.1" y2="-0.4" stroke="#141414" stroke-width="1.16"/><line x1="11.2" y1="-5.4" x2="10.6" y2="-0.4" stroke="#141414" stroke-width="0.65"/><path d="M-15.7,-4.6 L-11.5,-0.5 M14.1,-4.3 L12.2,-0.6" fill="none" stroke="#141414" stroke-width="0.74"/><path d="M-38.2,-3.5 H-16.3" fill="none" stroke="#aaa" stroke-width="0.74"/><path d="M22.2,-3.5 H35 L33.2,-0.5 M22.2,-3.5 V-0.4 M29,-5.6 V-0.4 M-29.6,-5.6 V-0.4" fill="none" stroke="#333" stroke-width="0.51"/></g><g transform="translate(0,0)"><rect x="-35.1" y="-20.4" width="2.2" height="3.4" rx="0.7" fill="#555" stroke="#141414" stroke-width="0.46"/><rect x="-32.2" y="-20.4" width="2.2" height="3.4" rx="0.7" fill="#555" stroke="#141414" stroke-width="0.46"/><path d="M-32.6,-17 v9 l2,2.4" fill="none" stroke="#141414" stroke-width="0.46"/><rect x="29.9" y="-25.1" width="2.6" height="12" rx="0.8" fill="#555" stroke="#141414" stroke-width="0.46"/><rect x="33.7" y="-24.2" width="2.4" height="9.6" rx="0.8" fill="#555" stroke="#141414" stroke-width="0.46"/><path d="M28.9,-21.3 h8.4 M28.9,-17.6 h8.4 M29.5,-15.2 h7" fill="none" stroke="#141414" stroke-width="0.65"/><path d="M31.5,-12.8 l-4,3.2" fill="none" stroke="#141414" stroke-width="0.83"/></g></g><line x1="86.2" y1="209.5" x2="200" y2="209.5" stroke="#141414" stroke-width="0.7"/><line x1="86.2" y1="207.5" x2="86.2" y2="298" stroke="#2a2a2a" stroke-width="0.6"/><line x1="200" y1="207.5" x2="200" y2="298" stroke="#2a2a2a" stroke-width="0.6"/><path d="M0,0 L-5.5,-0.9 L-5.5,0.9 Z" fill="#141414" transform="translate(86.2,209.5) rotate(180)"/><path d="M0,0 L-5.5,-0.9 L-5.5,0.9 Z" fill="#141414" transform="translate(200,209.5) rotate(0)"/><text class="d" x="141" y="206" font-size="10.9" text-anchor="middle" transform="rotate(0.03 141 206)" textLength="18.54" lengthAdjust="spacingAndGlyphs">356</text><line x1="61.8" y1="219.7" x2="61.8" y2="304.4" stroke="#141414" stroke-width="0.7"/><line x1="60" y1="219.7" x2="116" y2="219.7" stroke="#2a2a2a" stroke-width="0.6"/><line x1="60" y1="304.4" x2="95" y2="304.4" stroke="#2a2a2a" stroke-width="0.6"/><path d="M0,0 L-5.5,-0.9 L-5.5,0.9 Z" fill="#141414" transform="translate(61.8,219.7) rotate(270)"/><path d="M0,0 L-5.5,-0.9 L-5.5,0.9 Z" fill="#141414" transform="translate(61.8,304.4) rotate(90)"/><text class="d" x="0" y="0" font-size="10.9" text-anchor="middle" transform="translate(59.6,262.5) rotate(-90)" textLength="18.54" lengthAdjust="spacingAndGlyphs">311</text><line x1="83" y1="270" x2="83" y2="304.4" stroke="#141414" stroke-width="0.7"/><line x1="81.5" y1="270" x2="113" y2="270" stroke="#2a2a2a" stroke-width="0.6"/><path d="M0,0 L-5.5,-0.9 L-5.5,0.9 Z" fill="#141414" transform="translate(83,270) rotate(270)"/><path d="M0,0 L-5.5,-0.9 L-5.5,0.9 Z" fill="#141414" transform="translate(83,304.4) rotate(90)"/><text class="d" x="0" y="0" font-size="10.9" text-anchor="middle" transform="translate(80.3,287) rotate(-90)" textLength="18.54" lengthAdjust="spacingAndGlyphs">126</text><line x1="83" y1="355.7" x2="203.1" y2="355.7" stroke="#141414" stroke-width="0.7"/><line x1="83" y1="338.5" x2="83" y2="357.5" stroke="#2a2a2a" stroke-width="0.6"/><line x1="203.1" y1="338.5" x2="203.1" y2="357.5" stroke="#2a2a2a" stroke-width="0.6"/><path d="M0,0 L-5.5,-0.9 L-5.5,0.9 Z" fill="#141414" transform="translate(83,355.7) rotate(180)"/><path d="M0,0 L-5.5,-0.9 L-5.5,0.9 Z" fill="#141414" transform="translate(203.1,355.7) rotate(0)"/><text class="d" x="144.4" y="353.8" font-size="10.9" text-anchor="middle" transform="rotate(0.03 144.4 353.8)" textLength="18.54" lengthAdjust="spacingAndGlyphs">415</text></g>
<g><path d="M61.6,413.4 H231.3 V435.2 H61.6" fill="none" stroke="#141414" stroke-width="0.7"/><line x1="73.4" y1="413.4" x2="73.4" y2="435.2" stroke="#141414" stroke-width="0.7"/><line x1="75.6" y1="413.4" x2="75.6" y2="435.2" stroke="#141414" stroke-width="0.7"/><line x1="105.6" y1="413.4" x2="105.6" y2="435.2" stroke="#141414" stroke-width="0.7"/><line x1="109" y1="413.4" x2="109" y2="435.2" stroke="#141414" stroke-width="0.7"/><line x1="196.8" y1="413.4" x2="196.8" y2="435.2" stroke="#141414" stroke-width="0.7"/><line x1="200.2" y1="413.4" x2="200.2" y2="435.2" stroke="#141414" stroke-width="0.7"/><line x1="229.1" y1="413.4" x2="229.1" y2="435.2" stroke="#141414" stroke-width="0.7"/><rect x="120.1" y="421.2" width="16" height="6.6" rx="3.3" fill="none" stroke="#141414" stroke-width="0.7"/><rect x="170.1" y="421.2" width="15" height="6.6" rx="3.3" fill="none" stroke="#141414" stroke-width="0.7"/><circle cx="152.6" cy="424.4" r="3.9" fill="none" stroke="#141414" stroke-width="0.7"/><line x1="144.8" y1="424.4" x2="160.7" y2="424.4" stroke="#141414" stroke-width="0.6"/><line x1="61.6" y1="392" x2="61.6" y2="453" stroke="#141414" stroke-width="0.7"/><path d="M0,0 L-9.6,-1.6 L-9.6,1.6 Z" fill="#141414" transform="translate(61.6,413.4) rotate(90)"/><path d="M0,0 L-9.6,-1.6 L-9.6,1.6 Z" fill="#141414" transform="translate(61.6,435.2) rotate(270)"/><text class="d" x="0" y="0" font-size="10.9" text-anchor="middle" transform="translate(59,424.5) rotate(-90)" textLength="12.36" lengthAdjust="spacingAndGlyphs">38</text><line x1="112.3" y1="387.8" x2="173.5" y2="387.8" stroke="#141414" stroke-width="0.7"/><line x1="132" y1="387.8" x2="132" y2="421.2" stroke="#141414" stroke-width="0.6"/><line x1="152.6" y1="387.8" x2="152.6" y2="431.8" stroke="#141414" stroke-width="0.6"/><path d="M0,0 L-9.6,-1.6 L-9.6,1.6 Z" fill="#141414" transform="translate(131.9,387.8) rotate(0)"/><path d="M0,0 L-9.6,-1.6 L-9.6,1.6 Z" fill="#141414" transform="translate(152.8,387.8) rotate(180)"/><text class="d" x="143.4" y="385" font-size="10.9" text-anchor="middle" transform="rotate(0.03 143.4 385)" textLength="12.36" lengthAdjust="spacingAndGlyphs">35</text><text class="d" x="64.3" y="398" font-size="10.9" transform="rotate(0.03 64.3 398)" textLength="20.81" lengthAdjust="spacingAndGlyphs">Ø10</text><line x1="84.5" y1="399" x2="142.7" y2="437.3" stroke="#141414" stroke-width="0.7"/><text class="d" x="90" y="398" font-size="10.9" transform="rotate(0.03 90 398)" textLength="21.43" lengthAdjust="spacingAndGlyphs">Ø14</text><line x1="111.4" y1="399" x2="173.9" y2="437.3" stroke="#141414" stroke-width="0.7"/><path d="M0,0 L-9.6,-1.6 L-9.6,1.6 Z" fill="#141414" transform="translate(121.2,423.1) rotate(33.35)"/><path d="M0,0 L-9.6,-1.6 L-9.6,1.6 Z" fill="#141414" transform="translate(126.8,426.8) rotate(213.35)"/><path d="M0,0 L-9.6,-1.6 L-9.6,1.6 Z" fill="#141414" transform="translate(148.8,422) rotate(31.5)"/><path d="M0,0 L-9.6,-1.6 L-9.6,1.6 Z" fill="#141414" transform="translate(156.2,426.5) rotate(211.5)"/><line x1="127.4" y1="457.2" x2="177.3" y2="457.2" stroke="#141414" stroke-width="0.7"/><line x1="127.8" y1="422" x2="127.8" y2="458" stroke="#888" stroke-width="0.9"/><line x1="177.5" y1="422.5" x2="177.5" y2="458" stroke="#141414" stroke-width="0.6"/><path d="M0,0 L-9.6,-1.6 L-9.6,1.6 Z" fill="#141414" transform="translate(127.4,457.2) rotate(180)"/><path d="M0,0 L-9.6,-1.6 L-9.6,1.6 Z" fill="#141414" transform="translate(177.3,457.2) rotate(0)"/><text class="d" x="151.9" y="455.9" font-size="10.9" text-anchor="middle" transform="rotate(0.03 151.9 455.9)" textLength="12.36" lengthAdjust="spacingAndGlyphs">85</text><line x1="73.4" y1="470.6" x2="231.3" y2="470.6" stroke="#141414" stroke-width="0.7"/><line x1="73.4" y1="435.2" x2="73.4" y2="471.5" stroke="#141414" stroke-width="0.6"/><line x1="231.3" y1="435.2" x2="231.3" y2="471.5" stroke="#141414" stroke-width="0.6"/><path d="M0,0 L-9.6,-1.6 L-9.6,1.6 Z" fill="#141414" transform="translate(73.4,470.6) rotate(180)"/><path d="M0,0 L-9.6,-1.6 L-9.6,1.6 Z" fill="#141414" transform="translate(231.3,470.6) rotate(0)"/><text class="d" x="151.9" y="468" font-size="10.9" text-anchor="middle" transform="rotate(0.03 151.9 468)" textLength="18.54" lengthAdjust="spacingAndGlyphs">271</text></g>
<g><line x1="249.5" y1="253.4" x2="249.5" y2="358.9" stroke="#141414" stroke-width="0.8"/><path d="M249.5,270 l-6.5,-6.3M249.5,276.35 l-6.5,-6.3M249.5,282.7 l-6.5,-6.3M249.5,289.05 l-6.5,-6.3M249.5,295.4 l-6.5,-6.3M249.5,301.75 l-6.5,-6.3M249.5,308.1 l-6.5,-6.3M249.5,314.45 l-6.5,-6.3M249.5,320.8 l-6.5,-6.3M249.5,327.15 l-6.5,-6.3M249.5,333.5 l-6.5,-6.3M249.5,339.85 l-6.5,-6.3M249.5,346.2 l-6.5,-6.3" fill="none" stroke="#141414" stroke-width="1"/><path d="M251.6,273.9 L319.2,327.3 M250.9,274.9 L318.3,328.2" fill="none" stroke="#141414" stroke-width="0.7"/><path d="M253.4,264.5 V289.5 L262.7,302.6 V311 M255.8,264.5 V288.8 L265.1,301.8 V311" fill="none" stroke="#141414" stroke-width="0.65"/><path d="M249.5,274 H253 Q254.6,272.5 256,274 M249.5,281.5 H256" fill="none" stroke="#141414" stroke-width="0.5"/><path d="M278.8,324.6 H312.6 Q319.9,324.6 319.9,331.9 V344.7 M278.8,327 H312.2 Q317.5,327 317.5,332.3 V344.7" fill="none" stroke="#141414" stroke-width="0.65"/><rect x="316.3" y="344.7" width="6.4" height="5.6" rx="0" fill="#fff" stroke="#141414" stroke-width="0.7"/><line x1="249.5" y1="321.5" x2="254" y2="321.5" stroke="#141414" stroke-width="0.6"/><line x1="249.5" y1="330.5" x2="254" y2="330.5" stroke="#141414" stroke-width="0.6"/><g transform="translate(263.8,326.2) scale(0.95)"><g transform="rotate(0)"><rect x="9.6" y="-3.5" width="5.8" height="7" rx="0" fill="#fff" stroke="#141414" stroke-width="0.8"/><line x1="11.5" y1="-3.5" x2="11.5" y2="3.5" stroke="#141414" stroke-width="0.6"/><line x1="13.6" y1="-3.5" x2="13.6" y2="3.5" stroke="#141414" stroke-width="0.6"/><line x1="9.8" y1="-1.4" x2="15.4" y2="-1.4" stroke="#444" stroke-width="0.5"/><line x1="9.8" y1="1.4" x2="15.4" y2="1.4" stroke="#444" stroke-width="0.5"/></g><g transform="rotate(270)"><rect x="9.6" y="-3.5" width="5.8" height="7" rx="0" fill="#fff" stroke="#141414" stroke-width="0.8"/><line x1="11.5" y1="-3.5" x2="11.5" y2="3.5" stroke="#141414" stroke-width="0.6"/><line x1="13.6" y1="-3.5" x2="13.6" y2="3.5" stroke="#141414" stroke-width="0.6"/><line x1="9.8" y1="-1.4" x2="15.4" y2="-1.4" stroke="#444" stroke-width="0.5"/><line x1="9.8" y1="1.4" x2="15.4" y2="1.4" stroke="#444" stroke-width="0.5"/></g><g transform="rotate(90)"><rect x="9.6" y="-3.5" width="5.8" height="7" rx="0" fill="#fff" stroke="#141414" stroke-width="0.8"/><line x1="11.5" y1="-3.5" x2="11.5" y2="3.5" stroke="#141414" stroke-width="0.6"/><line x1="13.6" y1="-3.5" x2="13.6" y2="3.5" stroke="#141414" stroke-width="0.6"/><line x1="9.8" y1="-1.4" x2="15.4" y2="-1.4" stroke="#444" stroke-width="0.5"/><line x1="9.8" y1="1.4" x2="15.4" y2="1.4" stroke="#444" stroke-width="0.5"/></g><circle cx="0" cy="0" r="10.1" fill="#fff" stroke="#141414" stroke-width="1.1"/><circle cx="0" cy="0" r="8.9" fill="none" stroke="#444" stroke-width="0.5"/><circle cx="0" cy="0" r="7.2" fill="none" stroke="#141414" stroke-width="1"/><circle cx="5.73" cy="5.73" r="0.55" fill="#222"/><circle cx="-5.73" cy="5.73" r="0.55" fill="#222"/><circle cx="-5.73" cy="-5.73" r="0.55" fill="#222"/><circle cx="5.73" cy="-5.73" r="0.55" fill="#222"/></g><path d="M249.8,311.2 v4.6 a2.3,2.3 0 0 0 0,-4.6 Z" fill="#222" stroke="#141414" stroke-width="0.4"/><path d="M249.8,336 v4.6 a2.3,2.3 0 0 0 0,-4.6 Z" fill="#222" stroke="#141414" stroke-width="0.4"/><g transform="translate(319.3,382)"><path d="M-35.4,0 L-45.4,25.6 H45.4 L35.4,0" fill="none" stroke="#3a3a3a" stroke-width="0.65"/><line x1="-45.1" y1="25" x2="45.1" y2="25" stroke="#888" stroke-width="1.2"/><g><path d="M-32.6,-9 V-29.5 Q-32.6,-31.5 -30.6,-31.5 H30.6 Q32.6,-31.5 32.6,-29.5 V-9" fill="none" stroke="#141414" stroke-width="1.1"/><path d="M-31.1,-9 V-29 M31.1,-9 V-29" fill="none" stroke="#141414" stroke-width="0.6"/><path d="M-26.6,-11.7 V-14.7 Q-26.6,-16.2 -24.9,-16.2 H24.9 Q26.6,-16.2 26.6,-14.7 V-11.7" fill="#fff" stroke="#141414" stroke-width="0.9"/><rect x="-23" y="-25.5" width="46" height="9.3" rx="0" fill="#fff" stroke="#141414" stroke-width="0.9"/><line x1="-21" y1="-25.4" x2="-21" y2="-16.2" stroke="#141414" stroke-width="0.6"/><line x1="21" y1="-25.4" x2="21" y2="-16.2" stroke="#141414" stroke-width="0.6"/><line x1="-6" y1="-25.6" x2="6" y2="-25.6" stroke="#141414" stroke-width="1"/></g><g transform="scale(1,0.97)"><path d="M-26.8,-12.3 H26.8 C31,-12.1 36,-11.1 40.3,-9.1 C41.9,-8.3 42.6,-7.5 42.6,-6.3 C42.3,-3.8 39.8,-1.2 37.4,0 H-37.4 C-39.8,-1.2 -42.3,-3.8 -42.6,-6.3 C-42.6,-7.5 -41.9,-8.3 -40.3,-9.1 C-36,-11.1 -31,-12.1 -26.8,-12.3 Z" fill="#fff" stroke="#141414" stroke-width="1.05"/><line x1="-42.4" y1="-6.1" x2="42.4" y2="-6.1" stroke="#141414" stroke-width="0.9"/><line x1="-42" y1="-5" x2="42" y2="-5" stroke="#555" stroke-width="0.5"/><path d="M-41.4,-5.6 C-40.8,-3.4 -39,-1.6 -36.6,-0.5 M41.4,-5.6 C40.8,-3.4 39,-1.6 36.6,-0.5 M-40,-5.6 C-39.4,-3.6 -37.6,-1.6 -35.4,-0.5 M40,-5.6 C39.4,-3.6 37.6,-1.6 35.4,-0.5" fill="none" stroke="#141414" stroke-width="1"/><path d="M-3.15,-12 Q-5.03,-10.2 -5.65,-6" fill="none" stroke="#141414" stroke-width="0.95"/><path d="M-7.99,-12 Q-10.08,-10.2 -10.78,-6" fill="none" stroke="#141414" stroke-width="0.95"/><path d="M-12.68,-12 Q-14.98,-10.2 -15.74,-6" fill="none" stroke="#141414" stroke-width="0.95"/><path d="M-17.14,-12 Q-19.63,-10.2 -20.46,-6" fill="none" stroke="#141414" stroke-width="0.95"/><path d="M-21.31,-12 Q-23.98,-10.2 -24.86,-6" fill="none" stroke="#141414" stroke-width="0.95"/><path d="M-25.11,-12 Q-27.94,-10.2 -28.89,-6" fill="none" stroke="#141414" stroke-width="0.95"/><path d="M-28.5,-11.83 Q-31.48,-10.08 -32.47,-6" fill="none" stroke="#141414" stroke-width="0.95"/><path d="M-31.41,-11.46 Q-34.52,-9.82 -35.55,-6" fill="none" stroke="#141414" stroke-width="0.95"/><path d="M-33.81,-11 Q-37.02,-9.5 -38.09,-6" fill="none" stroke="#141414" stroke-width="0.95"/><path d="M-35.66,-10.64 Q-38.95,-9.25 -40.04,-6" fill="none" stroke="#141414" stroke-width="0.95"/><path d="M-36.93,-10.27 Q-40.27,-8.99 -41.38,-6" fill="none" stroke="#141414" stroke-width="0.95"/><path d="M-37.59,-9.98 Q-40.96,-8.79 -42.09,-6" fill="none" stroke="#141414" stroke-width="0.95"/><path d="M3.15,-12 Q5.03,-10.2 5.65,-6" fill="none" stroke="#141414" stroke-width="0.95"/><path d="M7.99,-12 Q10.08,-10.2 10.78,-6" fill="none" stroke="#141414" stroke-width="0.95"/><path d="M12.68,-12 Q14.98,-10.2 15.74,-6" fill="none" stroke="#141414" stroke-width="0.95"/><path d="M17.14,-12 Q19.63,-10.2 20.46,-6" fill="none" stroke="#141414" stroke-width="0.95"/><path d="M21.31,-12 Q23.98,-10.2 24.86,-6" fill="none" stroke="#141414" stroke-width="0.95"/><path d="M25.11,-12 Q27.94,-10.2 28.89,-6" fill="none" stroke="#141414" stroke-width="0.95"/><path d="M28.5,-11.83 Q31.48,-10.08 32.47,-6" fill="none" stroke="#141414" stroke-width="0.95"/><path d="M31.41,-11.46 Q34.52,-9.82 35.55,-6" fill="none" stroke="#141414" stroke-width="0.95"/><path d="M33.81,-11 Q37.02,-9.5 38.09,-6" fill="none" stroke="#141414" stroke-width="0.95"/><path d="M35.66,-10.64 Q38.95,-9.25 40.04,-6" fill="none" stroke="#141414" stroke-width="0.95"/><path d="M36.93,-10.27 Q40.27,-8.99 41.38,-6" fill="none" stroke="#141414" stroke-width="0.95"/><path d="M37.59,-9.98 Q40.96,-8.79 42.09,-6" fill="none" stroke="#141414" stroke-width="0.95"/><rect x="-1.3" y="-12.1" width="2.6" height="6" rx="0" fill="#777" stroke="#333" stroke-width="0.5"/><line x1="-7.9" y1="-5.6" x2="-7.9" y2="-0.4" stroke="#141414" stroke-width="1.25"/><line x1="-2.9" y1="-5.6" x2="-2.9" y2="-0.4" stroke="#141414" stroke-width="1.25"/><line x1="2.1" y1="-5.6" x2="2.1" y2="-0.4" stroke="#141414" stroke-width="1.25"/><line x1="8.1" y1="-5.6" x2="8.1" y2="-0.4" stroke="#141414" stroke-width="1.25"/><line x1="11.2" y1="-5.4" x2="10.6" y2="-0.4" stroke="#141414" stroke-width="0.7"/><path d="M-15.7,-4.6 L-11.5,-0.5 M14.1,-4.3 L12.2,-0.6" fill="none" stroke="#141414" stroke-width="0.8"/><path d="M-38.2,-3.5 H-16.3" fill="none" stroke="#aaa" stroke-width="0.8"/><path d="M22.2,-3.5 H35 L33.2,-0.5 M22.2,-3.5 V-0.4 M29,-5.6 V-0.4 M-29.6,-5.6 V-0.4" fill="none" stroke="#333" stroke-width="0.55"/></g><g transform="translate(0,0)"><rect x="-35" y="-21.4" width="5" height="5.2" rx="1.2" fill="#333" stroke="#141414" stroke-width="0.6"/><rect x="-33.4" y="-22.2" width="1.8" height="6.8" rx="0.4" fill="#888" stroke="#141414" stroke-width="0.5"/><line x1="-34.3" y1="-18.6" x2="-30.7" y2="-18.6" stroke="#141414" stroke-width="0.9"/><rect x="30" y="-21.4" width="5" height="5.2" rx="1.2" fill="#333" stroke="#141414" stroke-width="0.6"/><rect x="31.6" y="-22.2" width="1.8" height="6.8" rx="0.4" fill="#888" stroke="#141414" stroke-width="0.5"/><line x1="30.7" y1="-18.6" x2="34.3" y2="-18.6" stroke="#141414" stroke-width="0.9"/></g></g><circle cx="282.6" cy="360.8" r="0.45" fill="#777"/></g>
<g><line x1="405.3" y1="282" x2="405.3" y2="388" stroke="#141414" stroke-width="0.8"/><path d="M405.3,292.7 l-6.6,-6.4M405.3,299.5 l-6.6,-6.4M405.3,306.3 l-6.6,-6.4M405.3,313.1 l-6.6,-6.4M405.3,319.9 l-6.6,-6.4M405.3,326.7 l-6.6,-6.4M405.3,333.5 l-6.6,-6.4M405.3,340.3 l-6.6,-6.4M405.3,347.1 l-6.6,-6.4M405.3,353.9 l-6.6,-6.4M405.3,360.7 l-6.6,-6.4M405.3,367.5 l-6.6,-6.4M405.3,374.3 l-6.6,-6.4" fill="none" stroke="#141414" stroke-width="1"/><path d="M405.3,331.4 H444 M415.6,331.4 V339" fill="none" stroke="#141414" stroke-width="0.6"/><path d="M405.3,339 H444" fill="none" stroke="#888" stroke-width="0.8"/><g transform="translate(464.35,349.05) rotate(-45)"><path d="M-35.4,0 L-45.4,24.2 H45.4 L35.4,0" fill="none" stroke="#3a3a3a" stroke-width="0.74"/><line x1="-45.1" y1="23.6" x2="45.1" y2="23.6" stroke="#888" stroke-width="1.36"/><g></g><g transform="scale(1,1.07)"><path d="M-8.5,-12.3 H8.5 C16,-12.2 22,-11.7 27,-11.1 C31,-10.6 37,-9.2 40.8,-7.6 C42,-7.1 42.6,-6.9 42.6,-6.3 C42.3,-3.8 39.8,-1.2 37.4,0 H-37.4 C-39.8,-1.2 -42.3,-3.8 -42.6,-6.3 C-42.6,-6.9 -42,-7.1 -40.8,-7.6 C-37,-9.2 -31,-10.6 -27,-11.1 C-22,-11.7 -16,-12.2 -8.5,-12.3 Z" fill="#fff" stroke="#141414" stroke-width="1.19"/><line x1="-42.4" y1="-6.1" x2="42.4" y2="-6.1" stroke="#141414" stroke-width="1.02"/><line x1="-42" y1="-5" x2="42" y2="-5" stroke="#555" stroke-width="0.57"/><path d="M-41.4,-5.6 C-40.8,-3.4 -39,-1.6 -36.6,-0.5 M41.4,-5.6 C40.8,-3.4 39,-1.6 36.6,-0.5 M-40,-5.6 C-39.4,-3.6 -37.6,-1.6 -35.4,-0.5 M40,-5.6 C39.4,-3.6 37.6,-1.6 35.4,-0.5" fill="none" stroke="#141414" stroke-width="1.14"/><path d="M-3.15,-12 Q-5.03,-10.2 -5.65,-6" fill="none" stroke="#141414" stroke-width="1.08"/><path d="M-7.99,-12 Q-10.08,-10.2 -10.78,-6" fill="none" stroke="#141414" stroke-width="1.08"/><path d="M-12.68,-11.82 Q-14.98,-10.08 -15.74,-6" fill="none" stroke="#141414" stroke-width="1.08"/><path d="M-17.14,-11.64 Q-19.63,-9.95 -20.46,-6" fill="none" stroke="#141414" stroke-width="1.08"/><path d="M-21.31,-11.31 Q-23.98,-9.71 -24.86,-6" fill="none" stroke="#141414" stroke-width="1.08"/><path d="M-25.11,-10.97 Q-27.94,-9.48 -28.89,-6" fill="none" stroke="#141414" stroke-width="1.08"/><path d="M-28.5,-10.55 Q-31.48,-9.19 -32.47,-6" fill="none" stroke="#141414" stroke-width="1.08"/><path d="M-31.41,-10.06 Q-34.52,-8.85 -35.55,-6" fill="none" stroke="#141414" stroke-width="1.08"/><path d="M-33.81,-9.57 Q-37.02,-8.5 -38.09,-6" fill="none" stroke="#141414" stroke-width="1.08"/><path d="M-35.66,-9.03 Q-38.95,-8.12 -40.04,-6" fill="none" stroke="#141414" stroke-width="1.08"/><path d="M-36.93,-8.67 Q-40.27,-7.87 -41.38,-6" fill="none" stroke="#141414" stroke-width="1.08"/><path d="M-37.59,-8.47 Q-40.96,-7.73 -42.09,-6" fill="none" stroke="#141414" stroke-width="1.08"/><path d="M3.15,-12 Q5.03,-10.2 5.65,-6" fill="none" stroke="#141414" stroke-width="1.08"/><path d="M7.99,-12 Q10.08,-10.2 10.78,-6" fill="none" stroke="#141414" stroke-width="1.08"/><path d="M12.68,-11.82 Q14.98,-10.08 15.74,-6" fill="none" stroke="#141414" stroke-width="1.08"/><path d="M17.14,-11.64 Q19.63,-9.95 20.46,-6" fill="none" stroke="#141414" stroke-width="1.08"/><path d="M21.31,-11.31 Q23.98,-9.71 24.86,-6" fill="none" stroke="#141414" stroke-width="1.08"/><path d="M25.11,-10.97 Q27.94,-9.48 28.89,-6" fill="none" stroke="#141414" stroke-width="1.08"/><path d="M28.5,-10.55 Q31.48,-9.19 32.47,-6" fill="none" stroke="#141414" stroke-width="1.08"/><path d="M31.41,-10.06 Q34.52,-8.85 35.55,-6" fill="none" stroke="#141414" stroke-width="1.08"/><path d="M33.81,-9.57 Q37.02,-8.5 38.09,-6" fill="none" stroke="#141414" stroke-width="1.08"/><path d="M35.66,-9.03 Q38.95,-8.12 40.04,-6" fill="none" stroke="#141414" stroke-width="1.08"/><path d="M36.93,-8.67 Q40.27,-7.87 41.38,-6" fill="none" stroke="#141414" stroke-width="1.08"/><path d="M37.59,-8.47 Q40.96,-7.73 42.09,-6" fill="none" stroke="#141414" stroke-width="1.08"/><rect x="-4.8" y="-12.1" width="9.6" height="6" rx="0" fill="#888" stroke="#333" stroke-width="0.57"/><path d="M-2.2,-12 V-6.2 M0,-12 V-6.2 M2.2,-12 V-6.2" fill="none" stroke="#141414" stroke-width="0.91"/><line x1="-7.9" y1="-5.6" x2="-7.9" y2="-0.4" stroke="#141414" stroke-width="1.42"/><line x1="-2.9" y1="-5.6" x2="-2.9" y2="-0.4" stroke="#141414" stroke-width="1.42"/><line x1="2.1" y1="-5.6" x2="2.1" y2="-0.4" stroke="#141414" stroke-width="1.42"/><line x1="8.1" y1="-5.6" x2="8.1" y2="-0.4" stroke="#141414" stroke-width="1.42"/><line x1="11.2" y1="-5.4" x2="10.6" y2="-0.4" stroke="#141414" stroke-width="0.8"/><path d="M-15.7,-4.6 L-11.5,-0.5 M14.1,-4.3 L12.2,-0.6" fill="none" stroke="#141414" stroke-width="0.91"/><path d="M-38.2,-3.5 H-16.3" fill="none" stroke="#aaa" stroke-width="0.91"/><path d="M22.2,-3.5 H35 L33.2,-0.5 M22.2,-3.5 V-0.4 M29,-5.6 V-0.4 M-29.6,-5.6 V-0.4" fill="none" stroke="#333" stroke-width="0.62"/></g><rect x="-6.6" y="-27.6" width="13.2" height="13.2" rx="1.2" fill="#fff" stroke="#141414" stroke-width="1"/><circle cx="0" cy="-21" r="4.9" fill="none" stroke="#141414" stroke-width="2.3"/><circle cx="0" cy="-21" r="1.7" fill="#333" stroke="#141414" stroke-width="0.5"/></g></g>
<g><line x1="546.3" y1="16.5" x2="546.3" y2="416.6" stroke="#141414" stroke-width="0.7"/><line x1="546.3" y1="16.5" x2="621" y2="16.5" stroke="#141414" stroke-width="0.6"/><path d="M0,0 L-7.3,-1.5 L-7.3,1.5 Z" fill="#141414" transform="translate(546.3,16.5) rotate(270)"/><path d="M0,0 L-7.3,-1.5 L-7.3,1.5 Z" fill="#141414" transform="translate(546.3,416.6) rotate(90)"/><text class="d" x="0" y="0" font-size="11" text-anchor="middle" transform="translate(545.4,213) rotate(-90)" textLength="53.2" lengthAdjust="spacingAndGlyphs">2500-3000</text><path d="M582.3,92 V56.5 A40.1,40.1 0 0 1 650.75,28.15 L671.5,48.9" fill="none" stroke="#141414" stroke-width="0.65"/><path d="M587.1,92 V56.5 A35.3,35.3 0 0 1 647.36,31.54 L668.11,52.29" fill="none" stroke="#141414" stroke-width="0.65"/><line x1="582.3" y1="103.5" x2="582.3" y2="414.5" stroke="#141414" stroke-width="0.65"/><line x1="588.1" y1="103.5" x2="588.1" y2="414.5" stroke="#333" stroke-width="0.7"/><g transform="translate(673.5,55.1) rotate(135)"><rect x="-3.1" y="0" width="6.2" height="5.6" rx="0" fill="#fff" stroke="#141414" stroke-width="0.7"/></g><rect x="581" y="92" width="8.2" height="11.7" rx="0.6" fill="#fff" stroke="#141414" stroke-width="0.8"/><circle cx="585" cy="95" r="0.7" fill="none" stroke="#141414" stroke-width="0.5"/><circle cx="585" cy="100.8" r="0.7" fill="none" stroke="#141414" stroke-width="0.5"/><path d="M589.2,94.6 h0.9 v1.6 h-0.9 M589.2,99.8 h0.9 v1.6 h-0.9" fill="none" stroke="#141414" stroke-width="0.5"/><g transform="translate(696.9,80.25) rotate(-43.5)"><path d="M-35.4,0 L-45.4,24.2 H45.4 L35.4,0" fill="none" stroke="#3a3a3a" stroke-width="0.79"/><line x1="-45.1" y1="23.6" x2="45.1" y2="23.6" stroke="#888" stroke-width="1.46"/><g transform="translate(0,-2.4) scale(1.03,1)"><path d="M-32.6,-9 V-29.5 Q-32.6,-31.5 -30.6,-31.5 H30.6 Q32.6,-31.5 32.6,-29.5 V-9" fill="none" stroke="#141414" stroke-width="1.34"/><path d="M-31.1,-9 V-29 M31.1,-9 V-29" fill="none" stroke="#141414" stroke-width="0.73"/><path d="M-26.6,-11.7 V-14.7 Q-26.6,-16.2 -24.9,-16.2 H24.9 Q26.6,-16.2 26.6,-14.7 V-11.7" fill="#fff" stroke="#141414" stroke-width="1.1"/><rect x="-23" y="-25.5" width="46" height="9.3" rx="0" fill="#fff" stroke="#141414" stroke-width="1.1"/><line x1="-21" y1="-25.4" x2="-21" y2="-16.2" stroke="#141414" stroke-width="0.73"/><line x1="21" y1="-25.4" x2="21" y2="-16.2" stroke="#141414" stroke-width="0.73"/><line x1="-6" y1="-25.6" x2="6" y2="-25.6" stroke="#141414" stroke-width="1.22"/></g><g transform="scale(1.03,1.07)"><path d="M-26.8,-12.3 H26.8 C31,-12.1 36,-11.1 40.3,-9.1 C41.9,-8.3 42.6,-7.5 42.6,-6.3 C42.9,-4.5 42.6,-2 42.2,-1.2 C41.8,-0.4 41,0 39.8,0 H-39.8 C-41,0 -41.8,-0.4 -42.2,-1.2 C-42.6,-2 -42.9,-4.5 -42.6,-6.3 C-42.6,-7.5 -41.9,-8.3 -40.3,-9.1 C-36,-11.1 -31,-12.1 -26.8,-12.3 Z" fill="#fff" stroke="#141414" stroke-width="1.28"/><line x1="-42.4" y1="-6.1" x2="42.4" y2="-6.1" stroke="#141414" stroke-width="1.1"/><line x1="-42" y1="-5" x2="42" y2="-5" stroke="#555" stroke-width="0.61"/><path d="M-41.2,-5.6 V-1 M41.2,-5.6 V-1 M-39.6,-5.6 V-0.6 M39.6,-5.6 V-0.6" fill="none" stroke="#141414" stroke-width="1.22"/><line x1="-41.5" y1="-4.3" x2="41.5" y2="-4.3" stroke="#141414" stroke-width="0.98"/><path d="M-3.15,-12 Q-5.03,-10.2 -5.65,-6" fill="none" stroke="#141414" stroke-width="1.16"/><path d="M-7.99,-12 Q-10.08,-10.2 -10.78,-6" fill="none" stroke="#141414" stroke-width="1.16"/><path d="M-12.68,-12 Q-14.98,-10.2 -15.74,-6" fill="none" stroke="#141414" stroke-width="1.16"/><path d="M-17.14,-12 Q-19.63,-10.2 -20.46,-6" fill="none" stroke="#141414" stroke-width="1.16"/><path d="M-21.31,-12 Q-23.98,-10.2 -24.86,-6" fill="none" stroke="#141414" stroke-width="1.16"/><path d="M-25.11,-12 Q-27.94,-10.2 -28.89,-6" fill="none" stroke="#141414" stroke-width="1.16"/><path d="M-28.5,-11.83 Q-31.48,-10.08 -32.47,-6" fill="none" stroke="#141414" stroke-width="1.16"/><path d="M-31.41,-11.46 Q-34.52,-9.82 -35.55,-6" fill="none" stroke="#141414" stroke-width="1.16"/><path d="M-33.81,-11 Q-37.02,-9.5 -38.09,-6" fill="none" stroke="#141414" stroke-width="1.16"/><path d="M-35.66,-10.64 Q-38.95,-9.25 -40.04,-6" fill="none" stroke="#141414" stroke-width="1.16"/><path d="M-36.93,-10.27 Q-40.27,-8.99 -41.38,-6" fill="none" stroke="#141414" stroke-width="1.16"/><path d="M-37.59,-9.98 Q-40.96,-8.79 -42.09,-6" fill="none" stroke="#141414" stroke-width="1.16"/><path d="M3.15,-12 Q5.03,-10.2 5.65,-6" fill="none" stroke="#141414" stroke-width="1.16"/><path d="M7.99,-12 Q10.08,-10.2 10.78,-6" fill="none" stroke="#141414" stroke-width="1.16"/><path d="M12.68,-12 Q14.98,-10.2 15.74,-6" fill="none" stroke="#141414" stroke-width="1.16"/><path d="M17.14,-12 Q19.63,-10.2 20.46,-6" fill="none" stroke="#141414" stroke-width="1.16"/><path d="M21.31,-12 Q23.98,-10.2 24.86,-6" fill="none" stroke="#141414" stroke-width="1.16"/><path d="M25.11,-12 Q27.94,-10.2 28.89,-6" fill="none" stroke="#141414" stroke-width="1.16"/><path d="M28.5,-11.83 Q31.48,-10.08 32.47,-6" fill="none" stroke="#141414" stroke-width="1.16"/><path d="M31.41,-11.46 Q34.52,-9.82 35.55,-6" fill="none" stroke="#141414" stroke-width="1.16"/><path d="M33.81,-11 Q37.02,-9.5 38.09,-6" fill="none" stroke="#141414" stroke-width="1.16"/><path d="M35.66,-10.64 Q38.95,-9.25 40.04,-6" fill="none" stroke="#141414" stroke-width="1.16"/><path d="M36.93,-10.27 Q40.27,-8.99 41.38,-6" fill="none" stroke="#141414" stroke-width="1.16"/><path d="M37.59,-9.98 Q40.96,-8.79 42.09,-6" fill="none" stroke="#141414" stroke-width="1.16"/><rect x="-1.3" y="-12.1" width="2.6" height="6" rx="0" fill="#777" stroke="#333" stroke-width="0.61"/><line x1="-7.9" y1="-5.6" x2="-7.9" y2="-0.4" stroke="#141414" stroke-width="1.52"/><line x1="-2.9" y1="-5.6" x2="-2.9" y2="-0.4" stroke="#141414" stroke-width="1.52"/><line x1="2.1" y1="-5.6" x2="2.1" y2="-0.4" stroke="#141414" stroke-width="1.52"/><line x1="8.1" y1="-5.6" x2="8.1" y2="-0.4" stroke="#141414" stroke-width="1.52"/><line x1="11.2" y1="-5.4" x2="10.6" y2="-0.4" stroke="#141414" stroke-width="0.85"/><path d="M-15.7,-4.6 L-11.5,-0.5 M14.1,-4.3 L12.2,-0.6" fill="none" stroke="#141414" stroke-width="0.98"/><path d="M-38.2,-3.5 H-16.3" fill="none" stroke="#aaa" stroke-width="0.98"/><path d="M22.2,-3.5 H35 L33.2,-0.5 M22.2,-3.5 V-0.4 M29,-5.6 V-0.4 M-29.6,-5.6 V-0.4" fill="none" stroke="#333" stroke-width="0.67"/></g><g transform="translate(0,-2.4)"><rect x="-36.14" y="-21.4" width="5" height="5.2" rx="1.2" fill="#333" stroke="#141414" stroke-width="0.73"/><rect x="-34.54" y="-22.2" width="1.8" height="6.8" rx="0.4" fill="#888" stroke="#141414" stroke-width="0.61"/><line x1="-35.44" y1="-18.6" x2="-31.84" y2="-18.6" stroke="#141414" stroke-width="1.1"/><rect x="31.14" y="-21.4" width="5" height="5.2" rx="1.2" fill="#333" stroke="#141414" stroke-width="0.73"/><rect x="32.74" y="-22.2" width="1.8" height="6.8" rx="0.4" fill="#888" stroke="#141414" stroke-width="0.61"/><line x1="31.84" y1="-18.6" x2="35.44" y2="-18.6" stroke="#141414" stroke-width="1.1"/></g></g><line x1="546.3" y1="416.7" x2="620.8" y2="416.7" stroke="#777" stroke-width="1.3"/><path d="M555.4,416.8 l-7.2,6.5M562.2,416.8 l-7.2,6.5M569,416.8 l-7.2,6.5M575.8,416.8 l-7.2,6.5M582.6,416.8 l-7.2,6.5M589.4,416.8 l-7.2,6.5M596.2,416.8 l-7.2,6.5M603,416.8 l-7.2,6.5M609.8,416.8 l-7.2,6.5M616.6,416.8 l-7.2,6.5" fill="none" stroke="#141414" stroke-width="0.85"/><rect x="563.3" y="414.4" width="43.5" height="2.3" rx="0" fill="#fff" stroke="#141414" stroke-width="0.7"/><path d="M582.3,397.6 L563.6,414.4 M588.1,397.6 L606.5,414.4" fill="none" stroke="#141414" stroke-width="0.7"/><path d="M584,414.4 V403.2 Q584,402 585.4,402 Q586.8,402 586.8,403.2 V414.4" fill="none" stroke="#141414" stroke-width="0.6"/><circle cx="582.7" cy="393" r="2.2" fill="#fff" stroke="#141414" stroke-width="0.6"/><rect x="647.2" y="283.7" width="43.3" height="42.8" rx="0" fill="none" stroke="#141414" stroke-width="0.7"/><line x1="668.8" y1="283.7" x2="668.8" y2="326.5" stroke="#141414" stroke-width="0.6"/><line x1="647.2" y1="305" x2="690.5" y2="305" stroke="#141414" stroke-width="0.6"/><circle cx="652.6" cy="289.2" r="2.1" fill="#fff" stroke="#141414" stroke-width="0.7"/><circle cx="684.7" cy="289.2" r="2.1" fill="#fff" stroke="#141414" stroke-width="0.7"/><circle cx="652.6" cy="321.6" r="2.1" fill="#fff" stroke="#141414" stroke-width="0.7"/><circle cx="684.7" cy="321.6" r="2.1" fill="#fff" stroke="#141414" stroke-width="0.7"/><circle cx="668.8" cy="305" r="2.7" fill="#fff" stroke="#141414" stroke-width="0.7"/><path d="M667,307 L658.5,315.5" fill="none" stroke="#141414" stroke-width="0.6"/><path d="M667.4,308.4 l-2.2,-0.6 l1.0,2.0 l-2.2,-0.6 l1.0,2.0 l-2.2,-0.6 l1.0,2.0 l-2.2,-0.6 l1.0,2.0" fill="none" stroke="#141414" stroke-width="0.5"/><line x1="647.2" y1="262.8" x2="690.5" y2="262.8" stroke="#141414" stroke-width="0.7"/><line x1="647.2" y1="261.5" x2="647.2" y2="283.7" stroke="#141414" stroke-width="0.6"/><line x1="690.5" y1="261.5" x2="690.5" y2="283.7" stroke="#141414" stroke-width="0.6"/><path d="M0,0 L-6.5,-1.1 L-6.5,1.1 Z" fill="#141414" transform="translate(647.2,262.8) rotate(180)"/><path d="M0,0 L-6.5,-1.1 L-6.5,1.1 Z" fill="#141414" transform="translate(690.5,262.8) rotate(0)"/><text class="d" x="669.9" y="260.6" font-size="10.9" text-anchor="middle" transform="rotate(0.03 669.9 260.6)" textLength="17.18" lengthAdjust="spacingAndGlyphs">200</text><line x1="652.6" y1="275.5" x2="684.7" y2="275.5" stroke="#141414" stroke-width="0.7"/><line x1="652.6" y1="274.3" x2="652.6" y2="287" stroke="#141414" stroke-width="0.6"/><line x1="684.7" y1="274.3" x2="684.7" y2="287" stroke="#141414" stroke-width="0.6"/><path d="M0,0 L-6.5,-1.1 L-6.5,1.1 Z" fill="#141414" transform="translate(652.6,275.5) rotate(180)"/><path d="M0,0 L-6.5,-1.1 L-6.5,1.1 Z" fill="#141414" transform="translate(684.7,275.5) rotate(0)"/><text class="d" x="669.9" y="273.6" font-size="10.9" text-anchor="middle" transform="rotate(0.03 669.9 273.6)" textLength="17.18" lengthAdjust="spacingAndGlyphs">150</text><line x1="628.4" y1="283.7" x2="628.4" y2="326.5" stroke="#141414" stroke-width="0.7"/><line x1="627" y1="283.7" x2="647.2" y2="283.7" stroke="#141414" stroke-width="0.6"/><line x1="627" y1="326.5" x2="647.2" y2="326.5" stroke="#141414" stroke-width="0.6"/><path d="M0,0 L-6.5,-1.1 L-6.5,1.1 Z" fill="#141414" transform="translate(628.4,283.7) rotate(270)"/><path d="M0,0 L-6.5,-1.1 L-6.5,1.1 Z" fill="#141414" transform="translate(628.4,326.5) rotate(90)"/><text class="d" x="0" y="0" font-size="10.9" text-anchor="middle" transform="translate(626,303.5) rotate(-90)" textLength="17.18" lengthAdjust="spacingAndGlyphs">200</text><line x1="639.3" y1="289.6" x2="639.3" y2="321.3" stroke="#141414" stroke-width="0.7"/><line x1="638" y1="289.6" x2="650.5" y2="289.6" stroke="#141414" stroke-width="0.6"/><line x1="638" y1="321.3" x2="650.5" y2="321.3" stroke="#141414" stroke-width="0.6"/><path d="M0,0 L-6.5,-1.1 L-6.5,1.1 Z" fill="#141414" transform="translate(639.3,289.6) rotate(270)"/><path d="M0,0 L-6.5,-1.1 L-6.5,1.1 Z" fill="#141414" transform="translate(639.3,321.3) rotate(90)"/><text class="d" x="0" y="0" font-size="10.9" text-anchor="middle" transform="translate(637,304.3) rotate(-90)" textLength="17.18" lengthAdjust="spacingAndGlyphs">150</text><text class="d" x="640.6" y="341" font-size="11.1" transform="rotate(0.03 640.6 341)" textLength="31.6" lengthAdjust="spacingAndGlyphs">4xØ20</text><path d="M640.6,343.3 H676.3 L691.6,305.6" fill="none" stroke="#141414" stroke-width="0.6"/><path d="M0,0 L-7,-1.1 L-7,1.1 Z" fill="#141414" transform="translate(685.4,320.3) rotate(-67.91)"/></g>
<g><path d="M766.3,94 V59.5 A40.1,40.1 0 0 1 834.75,31.15 L855.5,51.9" fill="none" stroke="#141414" stroke-width="0.65"/><path d="M771.1,94 V59.5 A35.3,35.3 0 0 1 831.36,34.54 L852.11,55.29" fill="none" stroke="#141414" stroke-width="0.65"/><g transform="translate(857.5,58.1) rotate(135)"><rect x="-3.1" y="0" width="6.2" height="5.6" rx="0" fill="#fff" stroke="#141414" stroke-width="0.7"/></g><rect x="765.2" y="94" width="9" height="11.8" rx="0.6" fill="#fff" stroke="#141414" stroke-width="0.8"/><circle cx="769" cy="97" r="0.7" fill="none" stroke="#141414" stroke-width="0.5"/><circle cx="769" cy="102.8" r="0.7" fill="none" stroke="#141414" stroke-width="0.5"/><path d="M774.2,96.6 h0.9 v1.6 h-0.9 M774.2,101.8 h0.9 v1.6 h-0.9" fill="none" stroke="#141414" stroke-width="0.5"/><g transform="translate(878.7,85.1) rotate(-38.3)"><path d="M-35.4,0 L-45.4,25.4 H45.4 L35.4,0" fill="none" stroke="#3a3a3a" stroke-width="0.79"/><line x1="-45.1" y1="24.8" x2="45.1" y2="24.8" stroke="#888" stroke-width="1.46"/><g transform="translate(0,-2.4) scale(1.03,1)"><path d="M-32.6,-9 V-29.5 Q-32.6,-31.5 -30.6,-31.5 H30.6 Q32.6,-31.5 32.6,-29.5 V-9" fill="none" stroke="#141414" stroke-width="1.34"/><path d="M-31.1,-9 V-29 M31.1,-9 V-29" fill="none" stroke="#141414" stroke-width="0.73"/><path d="M-26.6,-11.7 V-14.7 Q-26.6,-16.2 -24.9,-16.2 H24.9 Q26.6,-16.2 26.6,-14.7 V-11.7" fill="#fff" stroke="#141414" stroke-width="1.1"/><rect x="-23" y="-25.5" width="46" height="9.3" rx="0" fill="#fff" stroke="#141414" stroke-width="1.1"/><line x1="-21" y1="-25.4" x2="-21" y2="-16.2" stroke="#141414" stroke-width="0.73"/><line x1="21" y1="-25.4" x2="21" y2="-16.2" stroke="#141414" stroke-width="0.73"/><line x1="-6" y1="-25.6" x2="6" y2="-25.6" stroke="#141414" stroke-width="1.22"/></g><g transform="scale(1.03,1.07)"><path d="M-26.8,-12.3 H26.8 C31,-12.1 36,-11.1 40.3,-9.1 C41.9,-8.3 42.6,-7.5 42.6,-6.3 C42.9,-4.5 42.6,-2 42.2,-1.2 C41.8,-0.4 41,0 39.8,0 H-39.8 C-41,0 -41.8,-0.4 -42.2,-1.2 C-42.6,-2 -42.9,-4.5 -42.6,-6.3 C-42.6,-7.5 -41.9,-8.3 -40.3,-9.1 C-36,-11.1 -31,-12.1 -26.8,-12.3 Z" fill="#fff" stroke="#141414" stroke-width="1.28"/><line x1="-42.4" y1="-6.1" x2="42.4" y2="-6.1" stroke="#141414" stroke-width="1.1"/><line x1="-42" y1="-5" x2="42" y2="-5" stroke="#555" stroke-width="0.61"/><path d="M-41.2,-5.6 V-1 M41.2,-5.6 V-1 M-39.6,-5.6 V-0.6 M39.6,-5.6 V-0.6" fill="none" stroke="#141414" stroke-width="1.22"/><line x1="-41.5" y1="-4.3" x2="41.5" y2="-4.3" stroke="#141414" stroke-width="0.98"/><path d="M-3.15,-12 Q-5.03,-10.2 -5.65,-6" fill="none" stroke="#141414" stroke-width="1.16"/><path d="M-7.99,-12 Q-10.08,-10.2 -10.78,-6" fill="none" stroke="#141414" stroke-width="1.16"/><path d="M-12.68,-12 Q-14.98,-10.2 -15.74,-6" fill="none" stroke="#141414" stroke-width="1.16"/><path d="M-17.14,-12 Q-19.63,-10.2 -20.46,-6" fill="none" stroke="#141414" stroke-width="1.16"/><path d="M-21.31,-12 Q-23.98,-10.2 -24.86,-6" fill="none" stroke="#141414" stroke-width="1.16"/><path d="M-25.11,-12 Q-27.94,-10.2 -28.89,-6" fill="none" stroke="#141414" stroke-width="1.16"/><path d="M-28.5,-11.83 Q-31.48,-10.08 -32.47,-6" fill="none" stroke="#141414" stroke-width="1.16"/><path d="M-31.41,-11.46 Q-34.52,-9.82 -35.55,-6" fill="none" stroke="#141414" stroke-width="1.16"/><path d="M-33.81,-11 Q-37.02,-9.5 -38.09,-6" fill="none" stroke="#141414" stroke-width="1.16"/><path d="M-35.66,-10.64 Q-38.95,-9.25 -40.04,-6" fill="none" stroke="#141414" stroke-width="1.16"/><path d="M-36.93,-10.27 Q-40.27,-8.99 -41.38,-6" fill="none" stroke="#141414" stroke-width="1.16"/><path d="M-37.59,-9.98 Q-40.96,-8.79 -42.09,-6" fill="none" stroke="#141414" stroke-width="1.16"/><path d="M3.15,-12 Q5.03,-10.2 5.65,-6" fill="none" stroke="#141414" stroke-width="1.16"/><path d="M7.99,-12 Q10.08,-10.2 10.78,-6" fill="none" stroke="#141414" stroke-width="1.16"/><path d="M12.68,-12 Q14.98,-10.2 15.74,-6" fill="none" stroke="#141414" stroke-width="1.16"/><path d="M17.14,-12 Q19.63,-10.2 20.46,-6" fill="none" stroke="#141414" stroke-width="1.16"/><path d="M21.31,-12 Q23.98,-10.2 24.86,-6" fill="none" stroke="#141414" stroke-width="1.16"/><path d="M25.11,-12 Q27.94,-10.2 28.89,-6" fill="none" stroke="#141414" stroke-width="1.16"/><path d="M28.5,-11.83 Q31.48,-10.08 32.47,-6" fill="none" stroke="#141414" stroke-width="1.16"/><path d="M31.41,-11.46 Q34.52,-9.82 35.55,-6" fill="none" stroke="#141414" stroke-width="1.16"/><path d="M33.81,-11 Q37.02,-9.5 38.09,-6" fill="none" stroke="#141414" stroke-width="1.16"/><path d="M35.66,-10.64 Q38.95,-9.25 40.04,-6" fill="none" stroke="#141414" stroke-width="1.16"/><path d="M36.93,-10.27 Q40.27,-8.99 41.38,-6" fill="none" stroke="#141414" stroke-width="1.16"/><path d="M37.59,-9.98 Q40.96,-8.79 42.09,-6" fill="none" stroke="#141414" stroke-width="1.16"/><rect x="-1.3" y="-12.1" width="2.6" height="6" rx="0" fill="#777" stroke="#333" stroke-width="0.61"/><line x1="-7.9" y1="-5.6" x2="-7.9" y2="-0.4" stroke="#141414" stroke-width="1.52"/><line x1="-2.9" y1="-5.6" x2="-2.9" y2="-0.4" stroke="#141414" stroke-width="1.52"/><line x1="2.1" y1="-5.6" x2="2.1" y2="-0.4" stroke="#141414" stroke-width="1.52"/><line x1="8.1" y1="-5.6" x2="8.1" y2="-0.4" stroke="#141414" stroke-width="1.52"/><line x1="11.2" y1="-5.4" x2="10.6" y2="-0.4" stroke="#141414" stroke-width="0.85"/><path d="M-15.7,-4.6 L-11.5,-0.5 M14.1,-4.3 L12.2,-0.6" fill="none" stroke="#141414" stroke-width="0.98"/><path d="M-38.2,-3.5 H-16.3" fill="none" stroke="#aaa" stroke-width="0.98"/><path d="M22.2,-3.5 H35 L33.2,-0.5 M22.2,-3.5 V-0.4 M29,-5.6 V-0.4 M-29.6,-5.6 V-0.4" fill="none" stroke="#333" stroke-width="0.67"/></g><g transform="translate(0,-2.4)"><rect x="-36.14" y="-21.4" width="5" height="5.2" rx="1.2" fill="#333" stroke="#141414" stroke-width="0.73"/><rect x="-34.54" y="-22.2" width="1.8" height="6.8" rx="0.4" fill="#888" stroke="#141414" stroke-width="0.61"/><line x1="-35.44" y1="-18.6" x2="-31.84" y2="-18.6" stroke="#141414" stroke-width="1.1"/><rect x="31.14" y="-21.4" width="5" height="5.2" rx="1.2" fill="#333" stroke="#141414" stroke-width="0.73"/><rect x="32.74" y="-22.2" width="1.8" height="6.8" rx="0.4" fill="#888" stroke="#141414" stroke-width="0.61"/><line x1="31.84" y1="-18.6" x2="35.44" y2="-18.6" stroke="#141414" stroke-width="1.1"/></g></g><line x1="721.7" y1="234.4" x2="760.5" y2="234.4" stroke="#141414" stroke-width="0.7"/><line x1="721.7" y1="239.7" x2="771.4" y2="239.7" stroke="#999" stroke-width="1.1"/><line x1="722.2" y1="335.1" x2="760.5" y2="335.1" stroke="#141414" stroke-width="0.7"/><line x1="722.2" y1="341" x2="760.5" y2="341" stroke="#999" stroke-width="1.1"/><line x1="760.5" y1="234.4" x2="760.5" y2="416.9" stroke="#141414" stroke-width="0.7"/><line x1="766.5" y1="105.8" x2="766.5" y2="416.9" stroke="#141414" stroke-width="0.7"/><line x1="772.3" y1="105.8" x2="772.3" y2="386" stroke="#999" stroke-width="1.1"/><circle cx="763.6" cy="236.9" r="3" fill="#fff" stroke="#141414" stroke-width="0.7"/><circle cx="763.3" cy="337.7" r="3" fill="#fff" stroke="#141414" stroke-width="0.7"/><path d="M756.8,240.2 h2.2 v2 M760.5,242 H772" fill="none" stroke="#141414" stroke-width="0.6"/><path d="M756.6,335.1 v-2.6 h2.4 M759,332.5 H771" fill="none" stroke="#141414" stroke-width="0.6"/><rect x="765.4" y="381" width="6.8" height="7.7" rx="0" fill="#fff" stroke="#141414" stroke-width="0.7"/><line x1="768.2" y1="381" x2="768.2" y2="388.7" stroke="#141414" stroke-width="0.6"/><rect x="763.3" y="388.7" width="11" height="16.7" rx="1" fill="#fff" stroke="#141414" stroke-width="0.8"/><rect x="772.2" y="385.6" width="4.3" height="22" rx="1" fill="#fff" stroke="#141414" stroke-width="0.8"/><circle cx="768.8" cy="396.5" r="3.2" fill="#fff" stroke="#141414" stroke-width="0.8"/><line x1="723.3" y1="417" x2="803" y2="417" stroke="#777" stroke-width="1.3"/><line x1="806.5" y1="417" x2="808" y2="417" stroke="#999" stroke-width="1"/><path d="M738.8,417.2 l-6.8,6.6M745.58,417.2 l-6.8,6.6M752.36,417.2 l-6.8,6.6M759.14,417.2 l-6.8,6.6M765.92,417.2 l-6.8,6.6M772.7,417.2 l-6.8,6.6M779.48,417.2 l-6.8,6.6M786.26,417.2 l-6.8,6.6M793.04,417.2 l-6.8,6.6M799.82,417.2 l-6.8,6.6" fill="none" stroke="#141414" stroke-width="0.85"/></g>
<g><text class="l" y="158.5" font-size="16" transform="rotate(0.03 33.3 158.5)"><tspan x="32.7" textLength="18.3" lengthAdjust="spacingAndGlyphs">A1</tspan> <tspan class="c" x="55" textLength="47.7" lengthAdjust="spacingAndGlyphs">吸顶式</tspan></text><text class="l" y="178.7" font-size="15.5" transform="rotate(0.03 34 178.7)"><tspan x="33.4" textLength="44.1" lengthAdjust="spacingAndGlyphs">Ceiling</tspan> <tspan x="83.2" textLength="30.3" lengthAdjust="spacingAndGlyphs">Type</tspan></text><text class="l" y="158.5" font-size="16" transform="rotate(0.03 205.3 158.5)"><tspan x="204.7" textLength="18.3" lengthAdjust="spacingAndGlyphs">A2</tspan> <tspan class="c" x="227" textLength="47.7" lengthAdjust="spacingAndGlyphs">吸顶式</tspan></text><text class="l" y="178.7" font-size="15.5" transform="rotate(0.03 206 178.7)"><tspan x="205.4" textLength="44.1" lengthAdjust="spacingAndGlyphs">Ceiling</tspan> <tspan x="255.2" textLength="30.3" lengthAdjust="spacingAndGlyphs">Type</tspan></text><text class="l" y="206.1" font-size="16" transform="rotate(0.03 398.2 206.1)"><tspan x="397.6" textLength="9.3" lengthAdjust="spacingAndGlyphs">C</tspan> <tspan class="c" x="411.8" textLength="48.5" lengthAdjust="spacingAndGlyphs">管吊式</tspan></text><text class="l" y="224.3" font-size="15.5" transform="rotate(0.03 398.9 224.3)"><tspan x="398.3" textLength="31.6" lengthAdjust="spacingAndGlyphs">Tube</tspan> <tspan x="433.9" textLength="50.1" lengthAdjust="spacingAndGlyphs">hanging</tspan> <tspan x="486.5" textLength="30.9" lengthAdjust="spacingAndGlyphs">Type</tspan></text><text class="l" y="449" font-size="16" transform="rotate(0.03 271 449)"><tspan x="270.4" textLength="17.6" lengthAdjust="spacingAndGlyphs">D1</tspan> <tspan class="c" x="292.2" textLength="48.6" lengthAdjust="spacingAndGlyphs">吸壁式</tspan></text><text class="l" y="470.3" font-size="15.5" transform="rotate(0.03 269.2 470.3)"><tspan x="268.6" textLength="48" lengthAdjust="spacingAndGlyphs">Suction</tspan> <tspan x="320.2" textLength="30.3" lengthAdjust="spacingAndGlyphs">Type</tspan></text><text class="l" y="449.6" font-size="16" transform="rotate(0.03 404.9 449.6)"><tspan x="404.3" textLength="18.5" lengthAdjust="spacingAndGlyphs">D2</tspan> <tspan class="c" x="427" textLength="48" lengthAdjust="spacingAndGlyphs">吸壁式</tspan></text><text class="l" y="470.7" font-size="15.5" transform="rotate(0.03 404.4 470.7)"><tspan x="403.8" textLength="48.9" lengthAdjust="spacingAndGlyphs">Suction</tspan> <tspan x="455.7" textLength="30.7" lengthAdjust="spacingAndGlyphs">Type</tspan></text><text class="l" y="449.8" font-size="16" transform="rotate(0.03 548.9 449.8)"><tspan x="548.3" textLength="8.2" lengthAdjust="spacingAndGlyphs">E</tspan> <tspan class="c" x="560.3" textLength="81" lengthAdjust="spacingAndGlyphs">法栏立杆式</tspan></text><text class="l" y="470.1" font-size="15.5" transform="rotate(0.03 548.9 470.1)"><tspan x="548.3" textLength="41.2" lengthAdjust="spacingAndGlyphs">Flange</tspan> <tspan x="592.8" textLength="27.9" lengthAdjust="spacingAndGlyphs">type</tspan></text><text class="l" y="449.8" font-size="16" transform="rotate(0.03 730.9 449.8)"><tspan x="730.3" textLength="7.8" lengthAdjust="spacingAndGlyphs">F</tspan> <tspan class="c" x="741.6" textLength="80.4" lengthAdjust="spacingAndGlyphs">护栏立杆式</tspan></text><text class="l" y="469.1" font-size="15.5" transform="rotate(0.03 730.6 469.1)"><tspan x="730" textLength="37.1" lengthAdjust="spacingAndGlyphs">Fence</tspan> <tspan x="770.3" textLength="27.6" lengthAdjust="spacingAndGlyphs">type</tspan></text></g>
</svg>
</body>
</html>
